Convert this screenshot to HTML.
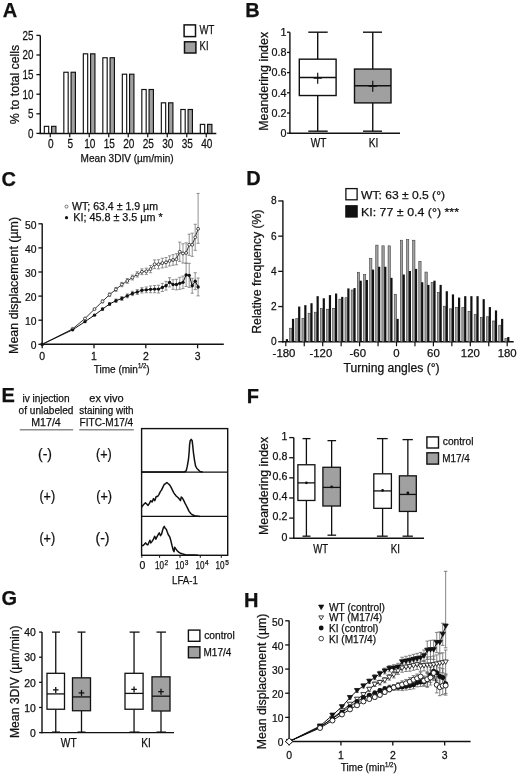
<!DOCTYPE html>
<html><head><meta charset="utf-8"><style>
html,body{margin:0;padding:0;background:#fff;}
svg{display:block;font-family:"Liberation Sans", sans-serif;will-change:transform;}
text{stroke:#111;stroke-width:0.25px;}
</style></head><body>
<svg width="520" height="776" viewBox="0 0 520 776">
<rect width="520" height="776" fill="#fff"/>
<text transform="translate(2.80 16.80)" font-size="20" text-anchor="start" font-weight="bold" fill="#111" >A</text>
<line x1="40.30" y1="35.40" x2="40.30" y2="134.10" stroke="#111" stroke-width="1.4" />
<line x1="39.60" y1="133.40" x2="216.30" y2="133.40" stroke="#111" stroke-width="1.5" />
<line x1="36.40" y1="133.40" x2="40.30" y2="133.40" stroke="#111" stroke-width="1.3" />
<text transform="translate(33.40 137.80) scale(0.8 1.0)" font-size="12.3" text-anchor="end" font-weight="normal" fill="#111" >0</text>
<line x1="36.40" y1="113.80" x2="40.30" y2="113.80" stroke="#111" stroke-width="1.3" />
<text transform="translate(33.40 118.20) scale(0.8 1.0)" font-size="12.3" text-anchor="end" font-weight="normal" fill="#111" >5</text>
<line x1="36.40" y1="94.20" x2="40.30" y2="94.20" stroke="#111" stroke-width="1.3" />
<text transform="translate(33.40 98.60) scale(0.8 1.0)" font-size="12.3" text-anchor="end" font-weight="normal" fill="#111" >10</text>
<line x1="36.40" y1="74.60" x2="40.30" y2="74.60" stroke="#111" stroke-width="1.3" />
<text transform="translate(33.40 79.00) scale(0.8 1.0)" font-size="12.3" text-anchor="end" font-weight="normal" fill="#111" >15</text>
<line x1="36.40" y1="55.00" x2="40.30" y2="55.00" stroke="#111" stroke-width="1.3" />
<text transform="translate(33.40 59.40) scale(0.8 1.0)" font-size="12.3" text-anchor="end" font-weight="normal" fill="#111" >20</text>
<line x1="36.40" y1="35.40" x2="40.30" y2="35.40" stroke="#111" stroke-width="1.3" />
<text transform="translate(33.40 39.80) scale(0.8 1.0)" font-size="12.3" text-anchor="end" font-weight="normal" fill="#111" >25</text>
<rect x="44.33" y="126.34" width="4.35" height="7.06" fill="#fff" stroke="#111" stroke-width="1.15"/>
<rect x="51.58" y="126.34" width="4.35" height="7.06" fill="#a0a0a0" stroke="#111" stroke-width="1.15"/>
<line x1="50.25" y1="133.40" x2="50.25" y2="137.20" stroke="#111" stroke-width="1.2" />
<text transform="translate(50.75 148.40) scale(0.82 1.0)" font-size="12.3" text-anchor="middle" font-weight="normal" fill="#111" >0</text>
<rect x="63.83" y="72.25" width="4.35" height="61.15" fill="#fff" stroke="#111" stroke-width="1.15"/>
<rect x="71.08" y="72.25" width="4.35" height="61.15" fill="#a0a0a0" stroke="#111" stroke-width="1.15"/>
<line x1="69.75" y1="133.40" x2="69.75" y2="137.20" stroke="#111" stroke-width="1.2" />
<text transform="translate(70.25 148.40) scale(0.82 1.0)" font-size="12.3" text-anchor="middle" font-weight="normal" fill="#111" >5</text>
<rect x="83.33" y="53.82" width="4.35" height="79.58" fill="#fff" stroke="#111" stroke-width="1.15"/>
<rect x="90.58" y="53.82" width="4.35" height="79.58" fill="#a0a0a0" stroke="#111" stroke-width="1.15"/>
<line x1="89.25" y1="133.40" x2="89.25" y2="137.20" stroke="#111" stroke-width="1.2" />
<text transform="translate(89.75 148.40) scale(0.82 1.0)" font-size="12.3" text-anchor="middle" font-weight="normal" fill="#111" >10</text>
<rect x="102.83" y="57.74" width="4.35" height="75.66" fill="#fff" stroke="#111" stroke-width="1.15"/>
<rect x="110.08" y="57.74" width="4.35" height="75.66" fill="#a0a0a0" stroke="#111" stroke-width="1.15"/>
<line x1="108.75" y1="133.40" x2="108.75" y2="137.20" stroke="#111" stroke-width="1.2" />
<text transform="translate(109.25 148.40) scale(0.82 1.0)" font-size="12.3" text-anchor="middle" font-weight="normal" fill="#111" >15</text>
<rect x="122.33" y="74.21" width="4.35" height="59.19" fill="#fff" stroke="#111" stroke-width="1.15"/>
<rect x="129.57" y="74.21" width="4.35" height="59.19" fill="#a0a0a0" stroke="#111" stroke-width="1.15"/>
<line x1="128.25" y1="133.40" x2="128.25" y2="137.20" stroke="#111" stroke-width="1.2" />
<text transform="translate(128.75 148.40) scale(0.82 1.0)" font-size="12.3" text-anchor="middle" font-weight="normal" fill="#111" >20</text>
<rect x="141.83" y="89.50" width="4.35" height="43.90" fill="#fff" stroke="#111" stroke-width="1.15"/>
<rect x="149.07" y="89.50" width="4.35" height="43.90" fill="#a0a0a0" stroke="#111" stroke-width="1.15"/>
<line x1="147.75" y1="133.40" x2="147.75" y2="137.20" stroke="#111" stroke-width="1.2" />
<text transform="translate(148.25 148.40) scale(0.82 1.0)" font-size="12.3" text-anchor="middle" font-weight="normal" fill="#111" >25</text>
<rect x="161.33" y="102.82" width="4.35" height="30.58" fill="#fff" stroke="#111" stroke-width="1.15"/>
<rect x="168.57" y="102.82" width="4.35" height="30.58" fill="#a0a0a0" stroke="#111" stroke-width="1.15"/>
<line x1="167.25" y1="133.40" x2="167.25" y2="137.20" stroke="#111" stroke-width="1.2" />
<text transform="translate(167.75 148.40) scale(0.82 1.0)" font-size="12.3" text-anchor="middle" font-weight="normal" fill="#111" >30</text>
<rect x="180.83" y="109.49" width="4.35" height="23.91" fill="#fff" stroke="#111" stroke-width="1.15"/>
<rect x="188.07" y="109.49" width="4.35" height="23.91" fill="#a0a0a0" stroke="#111" stroke-width="1.15"/>
<line x1="186.75" y1="133.40" x2="186.75" y2="137.20" stroke="#111" stroke-width="1.2" />
<text transform="translate(187.25 148.40) scale(0.82 1.0)" font-size="12.3" text-anchor="middle" font-weight="normal" fill="#111" >35</text>
<rect x="200.33" y="124.38" width="4.35" height="9.02" fill="#fff" stroke="#111" stroke-width="1.15"/>
<rect x="207.57" y="124.38" width="4.35" height="9.02" fill="#a0a0a0" stroke="#111" stroke-width="1.15"/>
<line x1="206.25" y1="133.40" x2="206.25" y2="137.20" stroke="#111" stroke-width="1.2" />
<text transform="translate(206.75 148.40) scale(0.82 1.0)" font-size="12.3" text-anchor="middle" font-weight="normal" fill="#111" >40</text>
<text transform="translate(80.60 161.60)" font-size="10.6" text-anchor="start" font-weight="normal" fill="#111" textLength="93" lengthAdjust="spacingAndGlyphs" >Mean 3DIV (µm/min)</text>
<text transform="translate(18.80 84.50) rotate(-90)" font-size="12" text-anchor="middle" font-weight="normal" fill="#111" textLength="79.5" lengthAdjust="spacingAndGlyphs" >% to total cells</text>
<rect x="184.10" y="24.90" width="11.40" height="11.70" fill="#fff" stroke="#111" stroke-width="1.5"/>
<rect x="184.50" y="41.80" width="11.40" height="11.20" fill="#a0a0a0" stroke="#111" stroke-width="1.5"/>
<text transform="translate(199.60 34.30)" font-size="12.5" text-anchor="start" font-weight="normal" fill="#111" textLength="14.8" lengthAdjust="spacingAndGlyphs" >WT</text>
<text transform="translate(199.60 50.30)" font-size="12" text-anchor="start" font-weight="normal" fill="#111" textLength="8.9" lengthAdjust="spacingAndGlyphs" >KI</text>
<text transform="translate(245.30 16.80)" font-size="20" text-anchor="start" font-weight="bold" fill="#111" >B</text>
<line x1="289.90" y1="32.20" x2="289.90" y2="133.80" stroke="#111" stroke-width="1.4" />
<line x1="289.20" y1="133.20" x2="400.00" y2="133.20" stroke="#111" stroke-width="1.4" />
<line x1="287.00" y1="133.20" x2="289.90" y2="133.20" stroke="#111" stroke-width="1.3" />
<text transform="translate(286.60 136.90) scale(0.93 1.0)" font-size="11.6" text-anchor="end" font-weight="normal" fill="#111" >0</text>
<line x1="287.00" y1="113.00" x2="289.90" y2="113.00" stroke="#111" stroke-width="1.3" />
<text transform="translate(286.60 116.70) scale(0.93 1.0)" font-size="11.6" text-anchor="end" font-weight="normal" fill="#111" >0.2</text>
<line x1="287.00" y1="92.80" x2="289.90" y2="92.80" stroke="#111" stroke-width="1.3" />
<text transform="translate(286.60 96.50) scale(0.93 1.0)" font-size="11.6" text-anchor="end" font-weight="normal" fill="#111" >0.4</text>
<line x1="287.00" y1="72.60" x2="289.90" y2="72.60" stroke="#111" stroke-width="1.3" />
<text transform="translate(286.60 76.30) scale(0.93 1.0)" font-size="11.6" text-anchor="end" font-weight="normal" fill="#111" >0.6</text>
<line x1="287.00" y1="52.40" x2="289.90" y2="52.40" stroke="#111" stroke-width="1.3" />
<text transform="translate(286.60 56.10) scale(0.93 1.0)" font-size="11.6" text-anchor="end" font-weight="normal" fill="#111" >0.8</text>
<line x1="287.00" y1="32.20" x2="289.90" y2="32.20" stroke="#111" stroke-width="1.3" />
<text transform="translate(286.60 35.90) scale(0.93 1.0)" font-size="11.6" text-anchor="end" font-weight="normal" fill="#111" >1</text>
<line x1="317.70" y1="32.20" x2="317.70" y2="59.17" stroke="#111" stroke-width="1.4" />
<line x1="317.70" y1="95.53" x2="317.70" y2="131.18" stroke="#111" stroke-width="1.4" />
<line x1="308.30" y1="32.20" x2="327.70" y2="32.20" stroke="#111" stroke-width="1.4" />
<line x1="308.30" y1="131.18" x2="327.70" y2="131.18" stroke="#111" stroke-width="1.4" />
<rect x="299.30" y="59.17" width="36.80" height="36.36" fill="#fff" stroke="#111" stroke-width="1.4"/>
<line x1="299.30" y1="77.45" x2="336.10" y2="77.45" stroke="#111" stroke-width="1.4" />
<line x1="313.60" y1="78.15" x2="321.80" y2="78.15" stroke="#111" stroke-width="1.2" />
<line x1="317.70" y1="72.65" x2="317.70" y2="83.65" stroke="#111" stroke-width="1.2" />
<line x1="372.75" y1="32.20" x2="372.75" y2="69.06" stroke="#111" stroke-width="1.4" />
<line x1="372.75" y1="102.90" x2="372.75" y2="131.18" stroke="#111" stroke-width="1.4" />
<line x1="363.00" y1="32.20" x2="382.00" y2="32.20" stroke="#111" stroke-width="1.4" />
<line x1="363.00" y1="131.18" x2="382.00" y2="131.18" stroke="#111" stroke-width="1.4" />
<rect x="354.50" y="69.06" width="36.50" height="33.84" fill="#a0a0a0" stroke="#111" stroke-width="1.4"/>
<line x1="354.50" y1="85.73" x2="391.00" y2="85.73" stroke="#111" stroke-width="1.4" />
<line x1="368.65" y1="86.23" x2="376.85" y2="86.23" stroke="#111" stroke-width="1.2" />
<line x1="372.75" y1="80.73" x2="372.75" y2="91.73" stroke="#111" stroke-width="1.2" />
<text transform="translate(318.60 147.20)" font-size="12" text-anchor="middle" font-weight="normal" fill="#111" textLength="15.6" lengthAdjust="spacingAndGlyphs" >WT</text>
<text transform="translate(373.60 147.20)" font-size="12" text-anchor="middle" font-weight="normal" fill="#111" textLength="9.6" lengthAdjust="spacingAndGlyphs" >KI</text>
<text transform="translate(267.80 81.30) rotate(-90)" font-size="12" text-anchor="middle" font-weight="normal" fill="#111" textLength="99" lengthAdjust="spacingAndGlyphs" >Meandering index</text>
<text transform="translate(1.50 186.20)" font-size="20" text-anchor="start" font-weight="bold" fill="#111" >C</text>
<line x1="42.20" y1="223.40" x2="42.20" y2="344.90" stroke="#111" stroke-width="1.4" />
<line x1="41.50" y1="344.30" x2="223.80" y2="344.30" stroke="#111" stroke-width="1.5" />
<line x1="38.40" y1="344.30" x2="42.20" y2="344.30" stroke="#111" stroke-width="1.3" />
<text transform="translate(36.40 349.10) scale(0.9 1.0)" font-size="11.5" text-anchor="end" font-weight="normal" fill="#111" >0</text>
<line x1="38.40" y1="320.20" x2="42.20" y2="320.20" stroke="#111" stroke-width="1.3" />
<text transform="translate(36.40 325.00) scale(0.9 1.0)" font-size="11.5" text-anchor="end" font-weight="normal" fill="#111" >10</text>
<line x1="38.40" y1="296.10" x2="42.20" y2="296.10" stroke="#111" stroke-width="1.3" />
<text transform="translate(36.40 300.90) scale(0.9 1.0)" font-size="11.5" text-anchor="end" font-weight="normal" fill="#111" >20</text>
<line x1="38.40" y1="272.00" x2="42.20" y2="272.00" stroke="#111" stroke-width="1.3" />
<text transform="translate(36.40 276.80) scale(0.9 1.0)" font-size="11.5" text-anchor="end" font-weight="normal" fill="#111" >30</text>
<line x1="38.40" y1="247.90" x2="42.20" y2="247.90" stroke="#111" stroke-width="1.3" />
<text transform="translate(36.40 252.70) scale(0.9 1.0)" font-size="11.5" text-anchor="end" font-weight="normal" fill="#111" >40</text>
<line x1="38.40" y1="223.80" x2="42.20" y2="223.80" stroke="#111" stroke-width="1.3" />
<text transform="translate(36.40 228.60) scale(0.9 1.0)" font-size="11.5" text-anchor="end" font-weight="normal" fill="#111" >50</text>
<line x1="42.20" y1="344.30" x2="42.20" y2="348.30" stroke="#111" stroke-width="1.3" />
<text transform="translate(42.20 360.30) scale(0.95 1.0)" font-size="11" text-anchor="middle" font-weight="normal" fill="#111" >0</text>
<line x1="94.00" y1="344.30" x2="94.00" y2="348.30" stroke="#111" stroke-width="1.3" />
<text transform="translate(94.00 360.30) scale(0.95 1.0)" font-size="11" text-anchor="middle" font-weight="normal" fill="#111" >1</text>
<line x1="145.80" y1="344.30" x2="145.80" y2="348.30" stroke="#111" stroke-width="1.3" />
<text transform="translate(145.80 360.30) scale(0.95 1.0)" font-size="11" text-anchor="middle" font-weight="normal" fill="#111" >2</text>
<line x1="197.60" y1="344.30" x2="197.60" y2="348.30" stroke="#111" stroke-width="1.3" />
<text transform="translate(197.60 360.30) scale(0.95 1.0)" font-size="11" text-anchor="middle" font-weight="normal" fill="#111" >3</text>
<text x="93.7" y="372.5" font-size="10.8" fill="#111" textLength="56" lengthAdjust="spacingAndGlyphs">Time (min<tspan font-size="6.5" dy="-4.2">1/2</tspan><tspan dy="4.2">)</tspan></text>
<text transform="translate(18.40 285.40) rotate(-90)" font-size="12" text-anchor="middle" font-weight="normal" fill="#111" textLength="137" lengthAdjust="spacingAndGlyphs" >Mean displacement (µm)</text>
<line x1="102.51" y1="302.85" x2="102.51" y2="299.96" stroke="#777" stroke-width="0.8" />
<line x1="100.91" y1="299.96" x2="104.11" y2="299.96" stroke="#777" stroke-width="0.8" />
<line x1="100.91" y1="302.85" x2="104.11" y2="302.85" stroke="#777" stroke-width="0.8" />
<line x1="109.57" y1="296.34" x2="109.57" y2="292.97" stroke="#777" stroke-width="0.8" />
<line x1="107.97" y1="292.97" x2="111.17" y2="292.97" stroke="#777" stroke-width="0.8" />
<line x1="107.97" y1="296.34" x2="111.17" y2="296.34" stroke="#777" stroke-width="0.8" />
<line x1="115.96" y1="291.28" x2="115.96" y2="287.42" stroke="#777" stroke-width="0.8" />
<line x1="114.36" y1="287.42" x2="117.56" y2="287.42" stroke="#777" stroke-width="0.8" />
<line x1="114.36" y1="291.28" x2="117.56" y2="291.28" stroke="#777" stroke-width="0.8" />
<line x1="121.83" y1="286.70" x2="121.83" y2="282.36" stroke="#777" stroke-width="0.8" />
<line x1="120.23" y1="282.36" x2="123.43" y2="282.36" stroke="#777" stroke-width="0.8" />
<line x1="120.23" y1="286.70" x2="123.43" y2="286.70" stroke="#777" stroke-width="0.8" />
<line x1="127.29" y1="283.33" x2="127.29" y2="278.51" stroke="#777" stroke-width="0.8" />
<line x1="125.69" y1="278.51" x2="128.89" y2="278.51" stroke="#777" stroke-width="0.8" />
<line x1="125.69" y1="283.33" x2="128.89" y2="283.33" stroke="#777" stroke-width="0.8" />
<line x1="132.42" y1="279.95" x2="132.42" y2="275.13" stroke="#777" stroke-width="0.8" />
<line x1="130.82" y1="275.13" x2="134.02" y2="275.13" stroke="#777" stroke-width="0.8" />
<line x1="130.82" y1="279.95" x2="134.02" y2="279.95" stroke="#777" stroke-width="0.8" />
<line x1="137.27" y1="277.06" x2="137.27" y2="271.76" stroke="#777" stroke-width="0.8" />
<line x1="135.67" y1="271.76" x2="138.87" y2="271.76" stroke="#777" stroke-width="0.8" />
<line x1="135.67" y1="277.06" x2="138.87" y2="277.06" stroke="#777" stroke-width="0.8" />
<line x1="141.89" y1="274.65" x2="141.89" y2="268.87" stroke="#777" stroke-width="0.8" />
<line x1="140.29" y1="268.87" x2="143.49" y2="268.87" stroke="#777" stroke-width="0.8" />
<line x1="140.29" y1="274.65" x2="143.49" y2="274.65" stroke="#777" stroke-width="0.8" />
<line x1="146.30" y1="274.41" x2="146.30" y2="268.14" stroke="#777" stroke-width="0.8" />
<line x1="144.70" y1="268.14" x2="147.90" y2="268.14" stroke="#777" stroke-width="0.8" />
<line x1="144.70" y1="274.41" x2="147.90" y2="274.41" stroke="#777" stroke-width="0.8" />
<line x1="150.53" y1="272.72" x2="150.53" y2="265.49" stroke="#777" stroke-width="0.8" />
<line x1="148.93" y1="265.49" x2="152.13" y2="265.49" stroke="#777" stroke-width="0.8" />
<line x1="148.93" y1="272.72" x2="152.13" y2="272.72" stroke="#777" stroke-width="0.8" />
<line x1="154.60" y1="268.63" x2="154.60" y2="259.95" stroke="#777" stroke-width="0.8" />
<line x1="153.00" y1="259.95" x2="156.20" y2="259.95" stroke="#777" stroke-width="0.8" />
<line x1="153.00" y1="268.63" x2="156.20" y2="268.63" stroke="#777" stroke-width="0.8" />
<line x1="158.53" y1="268.87" x2="158.53" y2="259.71" stroke="#777" stroke-width="0.8" />
<line x1="156.93" y1="259.71" x2="160.13" y2="259.71" stroke="#777" stroke-width="0.8" />
<line x1="156.93" y1="268.87" x2="160.13" y2="268.87" stroke="#777" stroke-width="0.8" />
<line x1="162.33" y1="267.90" x2="162.33" y2="258.26" stroke="#777" stroke-width="0.8" />
<line x1="160.73" y1="258.26" x2="163.93" y2="258.26" stroke="#777" stroke-width="0.8" />
<line x1="160.73" y1="267.90" x2="163.93" y2="267.90" stroke="#777" stroke-width="0.8" />
<line x1="166.01" y1="267.18" x2="166.01" y2="257.54" stroke="#777" stroke-width="0.8" />
<line x1="164.41" y1="257.54" x2="167.61" y2="257.54" stroke="#777" stroke-width="0.8" />
<line x1="164.41" y1="267.18" x2="167.61" y2="267.18" stroke="#777" stroke-width="0.8" />
<line x1="169.58" y1="265.98" x2="169.58" y2="255.85" stroke="#777" stroke-width="0.8" />
<line x1="167.98" y1="255.85" x2="171.18" y2="255.85" stroke="#777" stroke-width="0.8" />
<line x1="167.98" y1="265.98" x2="171.18" y2="265.98" stroke="#777" stroke-width="0.8" />
<line x1="173.06" y1="265.25" x2="173.06" y2="254.65" stroke="#777" stroke-width="0.8" />
<line x1="171.46" y1="254.65" x2="174.66" y2="254.65" stroke="#777" stroke-width="0.8" />
<line x1="171.46" y1="265.25" x2="174.66" y2="265.25" stroke="#777" stroke-width="0.8" />
<line x1="176.45" y1="264.77" x2="176.45" y2="253.68" stroke="#777" stroke-width="0.8" />
<line x1="174.85" y1="253.68" x2="178.05" y2="253.68" stroke="#777" stroke-width="0.8" />
<line x1="174.85" y1="264.77" x2="178.05" y2="264.77" stroke="#777" stroke-width="0.8" />
<line x1="179.75" y1="261.40" x2="179.75" y2="242.12" stroke="#777" stroke-width="0.8" />
<line x1="178.15" y1="242.12" x2="181.35" y2="242.12" stroke="#777" stroke-width="0.8" />
<line x1="178.15" y1="261.40" x2="181.35" y2="261.40" stroke="#777" stroke-width="0.8" />
<line x1="182.98" y1="263.08" x2="182.98" y2="243.80" stroke="#777" stroke-width="0.8" />
<line x1="181.38" y1="243.80" x2="184.58" y2="243.80" stroke="#777" stroke-width="0.8" />
<line x1="181.38" y1="263.08" x2="184.58" y2="263.08" stroke="#777" stroke-width="0.8" />
<line x1="186.13" y1="263.08" x2="186.13" y2="242.84" stroke="#777" stroke-width="0.8" />
<line x1="184.53" y1="242.84" x2="187.73" y2="242.84" stroke="#777" stroke-width="0.8" />
<line x1="184.53" y1="263.08" x2="187.73" y2="263.08" stroke="#777" stroke-width="0.8" />
<line x1="189.21" y1="255.37" x2="189.21" y2="234.16" stroke="#777" stroke-width="0.8" />
<line x1="187.61" y1="234.16" x2="190.81" y2="234.16" stroke="#777" stroke-width="0.8" />
<line x1="187.61" y1="255.37" x2="190.81" y2="255.37" stroke="#777" stroke-width="0.8" />
<line x1="192.23" y1="256.34" x2="192.23" y2="233.20" stroke="#777" stroke-width="0.8" />
<line x1="190.63" y1="233.20" x2="193.83" y2="233.20" stroke="#777" stroke-width="0.8" />
<line x1="190.63" y1="256.34" x2="193.83" y2="256.34" stroke="#777" stroke-width="0.8" />
<line x1="195.20" y1="250.31" x2="195.20" y2="224.28" stroke="#777" stroke-width="0.8" />
<line x1="193.60" y1="224.28" x2="196.80" y2="224.28" stroke="#777" stroke-width="0.8" />
<line x1="193.60" y1="250.31" x2="196.80" y2="250.31" stroke="#777" stroke-width="0.8" />
<line x1="198.10" y1="243.32" x2="198.10" y2="193.43" stroke="#777" stroke-width="0.8" />
<line x1="196.50" y1="193.43" x2="199.70" y2="193.43" stroke="#777" stroke-width="0.8" />
<line x1="196.50" y1="243.32" x2="199.70" y2="243.32" stroke="#777" stroke-width="0.8" />
<line x1="102.51" y1="310.56" x2="102.51" y2="307.67" stroke="#777" stroke-width="0.8" />
<line x1="100.91" y1="307.67" x2="104.11" y2="307.67" stroke="#777" stroke-width="0.8" />
<line x1="100.91" y1="310.56" x2="104.11" y2="310.56" stroke="#777" stroke-width="0.8" />
<line x1="109.57" y1="305.50" x2="109.57" y2="302.61" stroke="#777" stroke-width="0.8" />
<line x1="107.97" y1="302.61" x2="111.17" y2="302.61" stroke="#777" stroke-width="0.8" />
<line x1="107.97" y1="305.50" x2="111.17" y2="305.50" stroke="#777" stroke-width="0.8" />
<line x1="115.96" y1="302.37" x2="115.96" y2="298.99" stroke="#777" stroke-width="0.8" />
<line x1="114.36" y1="298.99" x2="117.56" y2="298.99" stroke="#777" stroke-width="0.8" />
<line x1="114.36" y1="302.37" x2="117.56" y2="302.37" stroke="#777" stroke-width="0.8" />
<line x1="121.83" y1="300.44" x2="121.83" y2="296.58" stroke="#777" stroke-width="0.8" />
<line x1="120.23" y1="296.58" x2="123.43" y2="296.58" stroke="#777" stroke-width="0.8" />
<line x1="120.23" y1="300.44" x2="123.43" y2="300.44" stroke="#777" stroke-width="0.8" />
<line x1="127.29" y1="297.79" x2="127.29" y2="293.93" stroke="#777" stroke-width="0.8" />
<line x1="125.69" y1="293.93" x2="128.89" y2="293.93" stroke="#777" stroke-width="0.8" />
<line x1="125.69" y1="297.79" x2="128.89" y2="297.79" stroke="#777" stroke-width="0.8" />
<line x1="132.42" y1="295.62" x2="132.42" y2="291.28" stroke="#777" stroke-width="0.8" />
<line x1="130.82" y1="291.28" x2="134.02" y2="291.28" stroke="#777" stroke-width="0.8" />
<line x1="130.82" y1="295.62" x2="134.02" y2="295.62" stroke="#777" stroke-width="0.8" />
<line x1="137.27" y1="294.41" x2="137.27" y2="289.59" stroke="#777" stroke-width="0.8" />
<line x1="135.67" y1="289.59" x2="138.87" y2="289.59" stroke="#777" stroke-width="0.8" />
<line x1="135.67" y1="294.41" x2="138.87" y2="294.41" stroke="#777" stroke-width="0.8" />
<line x1="141.89" y1="292.97" x2="141.89" y2="287.67" stroke="#777" stroke-width="0.8" />
<line x1="140.29" y1="287.67" x2="143.49" y2="287.67" stroke="#777" stroke-width="0.8" />
<line x1="140.29" y1="292.97" x2="143.49" y2="292.97" stroke="#777" stroke-width="0.8" />
<line x1="146.30" y1="292.73" x2="146.30" y2="286.94" stroke="#777" stroke-width="0.8" />
<line x1="144.70" y1="286.94" x2="147.90" y2="286.94" stroke="#777" stroke-width="0.8" />
<line x1="144.70" y1="292.73" x2="147.90" y2="292.73" stroke="#777" stroke-width="0.8" />
<line x1="150.53" y1="292.73" x2="150.53" y2="285.98" stroke="#777" stroke-width="0.8" />
<line x1="148.93" y1="285.98" x2="152.13" y2="285.98" stroke="#777" stroke-width="0.8" />
<line x1="148.93" y1="292.73" x2="152.13" y2="292.73" stroke="#777" stroke-width="0.8" />
<line x1="154.60" y1="292.73" x2="154.60" y2="285.50" stroke="#777" stroke-width="0.8" />
<line x1="153.00" y1="285.50" x2="156.20" y2="285.50" stroke="#777" stroke-width="0.8" />
<line x1="153.00" y1="292.73" x2="156.20" y2="292.73" stroke="#777" stroke-width="0.8" />
<line x1="158.53" y1="292.97" x2="158.53" y2="285.25" stroke="#777" stroke-width="0.8" />
<line x1="156.93" y1="285.25" x2="160.13" y2="285.25" stroke="#777" stroke-width="0.8" />
<line x1="156.93" y1="292.97" x2="160.13" y2="292.97" stroke="#777" stroke-width="0.8" />
<line x1="162.33" y1="291.52" x2="162.33" y2="283.33" stroke="#777" stroke-width="0.8" />
<line x1="160.73" y1="283.33" x2="163.93" y2="283.33" stroke="#777" stroke-width="0.8" />
<line x1="160.73" y1="291.52" x2="163.93" y2="291.52" stroke="#777" stroke-width="0.8" />
<line x1="166.01" y1="290.07" x2="166.01" y2="281.40" stroke="#777" stroke-width="0.8" />
<line x1="164.41" y1="281.40" x2="167.61" y2="281.40" stroke="#777" stroke-width="0.8" />
<line x1="164.41" y1="290.07" x2="167.61" y2="290.07" stroke="#777" stroke-width="0.8" />
<line x1="169.58" y1="286.94" x2="169.58" y2="277.78" stroke="#777" stroke-width="0.8" />
<line x1="167.98" y1="277.78" x2="171.18" y2="277.78" stroke="#777" stroke-width="0.8" />
<line x1="167.98" y1="286.94" x2="171.18" y2="286.94" stroke="#777" stroke-width="0.8" />
<line x1="173.06" y1="289.35" x2="173.06" y2="279.71" stroke="#777" stroke-width="0.8" />
<line x1="171.46" y1="279.71" x2="174.66" y2="279.71" stroke="#777" stroke-width="0.8" />
<line x1="171.46" y1="289.35" x2="174.66" y2="289.35" stroke="#777" stroke-width="0.8" />
<line x1="176.45" y1="289.83" x2="176.45" y2="279.23" stroke="#777" stroke-width="0.8" />
<line x1="174.85" y1="279.23" x2="178.05" y2="279.23" stroke="#777" stroke-width="0.8" />
<line x1="174.85" y1="289.83" x2="178.05" y2="289.83" stroke="#777" stroke-width="0.8" />
<line x1="179.75" y1="289.35" x2="179.75" y2="277.30" stroke="#777" stroke-width="0.8" />
<line x1="178.15" y1="277.30" x2="181.35" y2="277.30" stroke="#777" stroke-width="0.8" />
<line x1="178.15" y1="289.35" x2="181.35" y2="289.35" stroke="#777" stroke-width="0.8" />
<line x1="182.98" y1="288.63" x2="182.98" y2="276.10" stroke="#777" stroke-width="0.8" />
<line x1="181.38" y1="276.10" x2="184.58" y2="276.10" stroke="#777" stroke-width="0.8" />
<line x1="181.38" y1="288.63" x2="184.58" y2="288.63" stroke="#777" stroke-width="0.8" />
<line x1="186.13" y1="286.46" x2="186.13" y2="263.32" stroke="#777" stroke-width="0.8" />
<line x1="184.53" y1="263.32" x2="187.73" y2="263.32" stroke="#777" stroke-width="0.8" />
<line x1="184.53" y1="286.46" x2="187.73" y2="286.46" stroke="#777" stroke-width="0.8" />
<line x1="189.21" y1="287.42" x2="189.21" y2="263.32" stroke="#777" stroke-width="0.8" />
<line x1="187.61" y1="263.32" x2="190.81" y2="263.32" stroke="#777" stroke-width="0.8" />
<line x1="187.61" y1="287.42" x2="190.81" y2="287.42" stroke="#777" stroke-width="0.8" />
<line x1="192.23" y1="293.21" x2="192.23" y2="278.27" stroke="#777" stroke-width="0.8" />
<line x1="190.63" y1="278.27" x2="193.83" y2="278.27" stroke="#777" stroke-width="0.8" />
<line x1="190.63" y1="293.21" x2="193.83" y2="293.21" stroke="#777" stroke-width="0.8" />
<line x1="195.20" y1="289.59" x2="195.20" y2="272.72" stroke="#777" stroke-width="0.8" />
<line x1="193.60" y1="272.72" x2="196.80" y2="272.72" stroke="#777" stroke-width="0.8" />
<line x1="193.60" y1="289.59" x2="196.80" y2="289.59" stroke="#777" stroke-width="0.8" />
<line x1="198.10" y1="295.86" x2="198.10" y2="278.02" stroke="#777" stroke-width="0.8" />
<line x1="196.50" y1="278.02" x2="199.70" y2="278.02" stroke="#777" stroke-width="0.8" />
<line x1="196.50" y1="295.86" x2="199.70" y2="295.86" stroke="#777" stroke-width="0.8" />
<polyline points="42.20,344.30 72.61,328.88 84.99,318.51 94.50,309.11 102.51,301.40 109.57,294.65 115.96,289.35 121.83,284.53 127.29,280.92 132.42,277.54 137.27,274.41 141.89,271.76 146.30,271.28 150.53,269.11 154.60,264.29 158.53,264.29 162.33,263.08 166.01,262.36 169.58,260.91 173.06,259.95 176.45,259.23 179.75,251.76 182.98,253.44 186.13,252.96 189.21,244.77 192.23,244.77 195.20,237.30 198.10,228.86" fill="none" stroke="#333" stroke-width="1.0" stroke-linejoin="round" />
<polyline points="42.20,344.30 72.61,329.84 84.99,321.65 94.50,315.14 102.51,309.11 109.57,304.05 115.96,300.68 121.83,298.51 127.29,295.86 132.42,293.45 137.27,292.00 141.89,290.32 146.30,289.83 150.53,289.35 154.60,289.11 158.53,289.11 162.33,287.42 166.01,285.74 169.58,282.36 173.06,284.53 176.45,284.53 179.75,283.33 182.98,282.36 186.13,274.89 189.21,275.37 192.23,285.74 195.20,281.16 198.10,286.94" fill="none" stroke="#111" stroke-width="1.0" stroke-linejoin="round" />
<circle cx="42.20" cy="344.30" r="1.45" fill="#fff" stroke="#333" stroke-width="0.9"/>
<circle cx="72.61" cy="328.88" r="1.45" fill="#fff" stroke="#333" stroke-width="0.9"/>
<circle cx="84.99" cy="318.51" r="1.45" fill="#fff" stroke="#333" stroke-width="0.9"/>
<circle cx="94.50" cy="309.11" r="1.45" fill="#fff" stroke="#333" stroke-width="0.9"/>
<circle cx="102.51" cy="301.40" r="1.45" fill="#fff" stroke="#333" stroke-width="0.9"/>
<circle cx="109.57" cy="294.65" r="1.45" fill="#fff" stroke="#333" stroke-width="0.9"/>
<circle cx="115.96" cy="289.35" r="1.45" fill="#fff" stroke="#333" stroke-width="0.9"/>
<circle cx="121.83" cy="284.53" r="1.45" fill="#fff" stroke="#333" stroke-width="0.9"/>
<circle cx="127.29" cy="280.92" r="1.45" fill="#fff" stroke="#333" stroke-width="0.9"/>
<circle cx="132.42" cy="277.54" r="1.45" fill="#fff" stroke="#333" stroke-width="0.9"/>
<circle cx="137.27" cy="274.41" r="1.45" fill="#fff" stroke="#333" stroke-width="0.9"/>
<circle cx="141.89" cy="271.76" r="1.45" fill="#fff" stroke="#333" stroke-width="0.9"/>
<circle cx="146.30" cy="271.28" r="1.45" fill="#fff" stroke="#333" stroke-width="0.9"/>
<circle cx="150.53" cy="269.11" r="1.45" fill="#fff" stroke="#333" stroke-width="0.9"/>
<circle cx="154.60" cy="264.29" r="1.45" fill="#fff" stroke="#333" stroke-width="0.9"/>
<circle cx="158.53" cy="264.29" r="1.45" fill="#fff" stroke="#333" stroke-width="0.9"/>
<circle cx="162.33" cy="263.08" r="1.45" fill="#fff" stroke="#333" stroke-width="0.9"/>
<circle cx="166.01" cy="262.36" r="1.45" fill="#fff" stroke="#333" stroke-width="0.9"/>
<circle cx="169.58" cy="260.91" r="1.45" fill="#fff" stroke="#333" stroke-width="0.9"/>
<circle cx="173.06" cy="259.95" r="1.45" fill="#fff" stroke="#333" stroke-width="0.9"/>
<circle cx="176.45" cy="259.23" r="1.45" fill="#fff" stroke="#333" stroke-width="0.9"/>
<circle cx="179.75" cy="251.76" r="1.45" fill="#fff" stroke="#333" stroke-width="0.9"/>
<circle cx="182.98" cy="253.44" r="1.45" fill="#fff" stroke="#333" stroke-width="0.9"/>
<circle cx="186.13" cy="252.96" r="1.45" fill="#fff" stroke="#333" stroke-width="0.9"/>
<circle cx="189.21" cy="244.77" r="1.45" fill="#fff" stroke="#333" stroke-width="0.9"/>
<circle cx="192.23" cy="244.77" r="1.45" fill="#fff" stroke="#333" stroke-width="0.9"/>
<circle cx="195.20" cy="237.30" r="1.45" fill="#fff" stroke="#333" stroke-width="0.9"/>
<circle cx="198.10" cy="228.86" r="1.45" fill="#fff" stroke="#333" stroke-width="0.9"/>
<circle cx="42.20" cy="344.30" r="1.7" fill="#111"/>
<circle cx="72.61" cy="329.84" r="1.7" fill="#111"/>
<circle cx="84.99" cy="321.65" r="1.7" fill="#111"/>
<circle cx="94.50" cy="315.14" r="1.7" fill="#111"/>
<circle cx="102.51" cy="309.11" r="1.7" fill="#111"/>
<circle cx="109.57" cy="304.05" r="1.7" fill="#111"/>
<circle cx="115.96" cy="300.68" r="1.7" fill="#111"/>
<circle cx="121.83" cy="298.51" r="1.7" fill="#111"/>
<circle cx="127.29" cy="295.86" r="1.7" fill="#111"/>
<circle cx="132.42" cy="293.45" r="1.7" fill="#111"/>
<circle cx="137.27" cy="292.00" r="1.7" fill="#111"/>
<circle cx="141.89" cy="290.32" r="1.7" fill="#111"/>
<circle cx="146.30" cy="289.83" r="1.7" fill="#111"/>
<circle cx="150.53" cy="289.35" r="1.7" fill="#111"/>
<circle cx="154.60" cy="289.11" r="1.7" fill="#111"/>
<circle cx="158.53" cy="289.11" r="1.7" fill="#111"/>
<circle cx="162.33" cy="287.42" r="1.7" fill="#111"/>
<circle cx="166.01" cy="285.74" r="1.7" fill="#111"/>
<circle cx="169.58" cy="282.36" r="1.7" fill="#111"/>
<circle cx="173.06" cy="284.53" r="1.7" fill="#111"/>
<circle cx="176.45" cy="284.53" r="1.7" fill="#111"/>
<circle cx="179.75" cy="283.33" r="1.7" fill="#111"/>
<circle cx="182.98" cy="282.36" r="1.7" fill="#111"/>
<circle cx="186.13" cy="274.89" r="1.7" fill="#111"/>
<circle cx="189.21" cy="275.37" r="1.7" fill="#111"/>
<circle cx="192.23" cy="285.74" r="1.7" fill="#111"/>
<circle cx="195.20" cy="281.16" r="1.7" fill="#111"/>
<circle cx="198.10" cy="286.94" r="1.7" fill="#111"/>
<circle cx="66.5" cy="206.6" r="1.5" fill="#fff" stroke="#555" stroke-width="0.8"/>
<circle cx="66.5" cy="217.7" r="1.6" fill="#111"/>
<text transform="translate(72.00 209.60)" font-size="10.6" text-anchor="start" font-weight="normal" fill="#111" textLength="86" lengthAdjust="spacingAndGlyphs" >WT; 63.4 ± 1.9 µm</text>
<text transform="translate(73.20 221.20)" font-size="10.6" text-anchor="start" font-weight="normal" fill="#111" textLength="89.5" lengthAdjust="spacingAndGlyphs" >KI; 45.8 ± 3.5 µm *</text>
<text transform="translate(246.30 185.20)" font-size="20" text-anchor="start" font-weight="bold" fill="#111" >D</text>
<line x1="282.90" y1="200.50" x2="282.90" y2="342.40" stroke="#111" stroke-width="1.4" />
<line x1="282.20" y1="341.75" x2="513.70" y2="341.75" stroke="#111" stroke-width="1.4" />
<line x1="278.20" y1="341.75" x2="282.90" y2="341.75" stroke="#111" stroke-width="1.3" />
<text transform="translate(276.60 345.15) scale(0.86 1.0)" font-size="11.8" text-anchor="end" font-weight="normal" fill="#111" >0</text>
<line x1="278.20" y1="306.55" x2="282.90" y2="306.55" stroke="#111" stroke-width="1.3" />
<text transform="translate(276.60 309.95) scale(0.86 1.0)" font-size="11.8" text-anchor="end" font-weight="normal" fill="#111" >2</text>
<line x1="278.20" y1="271.35" x2="282.90" y2="271.35" stroke="#111" stroke-width="1.3" />
<text transform="translate(276.60 274.75) scale(0.86 1.0)" font-size="11.8" text-anchor="end" font-weight="normal" fill="#111" >4</text>
<line x1="278.20" y1="236.15" x2="282.90" y2="236.15" stroke="#111" stroke-width="1.3" />
<text transform="translate(276.60 239.55) scale(0.86 1.0)" font-size="11.8" text-anchor="end" font-weight="normal" fill="#111" >6</text>
<line x1="278.20" y1="200.95" x2="282.90" y2="200.95" stroke="#111" stroke-width="1.3" />
<text transform="translate(276.60 204.35) scale(0.86 1.0)" font-size="11.8" text-anchor="end" font-weight="normal" fill="#111" >8</text>
<line x1="285.80" y1="341.75" x2="285.80" y2="346.20" stroke="#111" stroke-width="1.2" />
<line x1="304.25" y1="341.75" x2="304.25" y2="346.20" stroke="#111" stroke-width="1.2" />
<line x1="322.70" y1="341.75" x2="322.70" y2="346.20" stroke="#111" stroke-width="1.2" />
<line x1="341.15" y1="341.75" x2="341.15" y2="346.20" stroke="#111" stroke-width="1.2" />
<line x1="359.60" y1="341.75" x2="359.60" y2="346.20" stroke="#111" stroke-width="1.2" />
<line x1="378.05" y1="341.75" x2="378.05" y2="346.20" stroke="#111" stroke-width="1.2" />
<line x1="396.50" y1="341.75" x2="396.50" y2="346.20" stroke="#111" stroke-width="1.2" />
<line x1="414.95" y1="341.75" x2="414.95" y2="346.20" stroke="#111" stroke-width="1.2" />
<line x1="433.40" y1="341.75" x2="433.40" y2="346.20" stroke="#111" stroke-width="1.2" />
<line x1="451.85" y1="341.75" x2="451.85" y2="346.20" stroke="#111" stroke-width="1.2" />
<line x1="470.30" y1="341.75" x2="470.30" y2="346.20" stroke="#111" stroke-width="1.2" />
<line x1="488.75" y1="341.75" x2="488.75" y2="346.20" stroke="#111" stroke-width="1.2" />
<line x1="507.20" y1="341.75" x2="507.20" y2="346.20" stroke="#111" stroke-width="1.2" />
<text transform="translate(284.00 357.20)" font-size="11.4" text-anchor="middle" font-weight="normal" fill="#111" >-180</text>
<text transform="translate(320.90 357.20)" font-size="11.4" text-anchor="middle" font-weight="normal" fill="#111" >-120</text>
<text transform="translate(357.80 357.20)" font-size="11.4" text-anchor="middle" font-weight="normal" fill="#111" >-60</text>
<text transform="translate(396.50 357.20)" font-size="11.4" text-anchor="middle" font-weight="normal" fill="#111" >0</text>
<text transform="translate(433.40 357.20)" font-size="11.4" text-anchor="middle" font-weight="normal" fill="#111" >60</text>
<text transform="translate(470.30 357.20)" font-size="11.4" text-anchor="middle" font-weight="normal" fill="#111" >120</text>
<text transform="translate(507.20 357.20)" font-size="11.4" text-anchor="middle" font-weight="normal" fill="#111" >180</text>
<text transform="translate(343.60 372.40)" font-size="12" text-anchor="start" font-weight="normal" fill="#111" textLength="96" lengthAdjust="spacingAndGlyphs" >Turning angles (°)</text>
<text transform="translate(260.80 271.60) rotate(-90)" font-size="12" text-anchor="middle" font-weight="normal" fill="#111" textLength="124.5" lengthAdjust="spacingAndGlyphs" >Relative frequency (%)</text>
<rect x="285.80" y="339.11" width="2.2" height="2.64" fill="#111"/>
<rect x="289.65" y="328.20" width="2.3" height="13.55" fill="#a2a2a2" stroke="#333" stroke-width="0.55"/>
<rect x="291.95" y="318.87" width="2.2" height="22.88" fill="#111"/>
<rect x="295.80" y="318.69" width="2.3" height="23.06" fill="#a2a2a2" stroke="#333" stroke-width="0.55"/>
<rect x="298.10" y="306.55" width="2.2" height="35.20" fill="#111"/>
<rect x="301.95" y="318.34" width="2.3" height="23.41" fill="#a2a2a2" stroke="#333" stroke-width="0.55"/>
<rect x="304.25" y="305.14" width="2.2" height="36.61" fill="#111"/>
<rect x="308.10" y="313.24" width="2.3" height="28.51" fill="#a2a2a2" stroke="#333" stroke-width="0.55"/>
<rect x="310.40" y="303.21" width="2.2" height="38.54" fill="#111"/>
<rect x="314.25" y="312.18" width="2.3" height="29.57" fill="#a2a2a2" stroke="#333" stroke-width="0.55"/>
<rect x="316.55" y="296.17" width="2.2" height="45.58" fill="#111"/>
<rect x="320.40" y="308.49" width="2.3" height="33.26" fill="#a2a2a2" stroke="#333" stroke-width="0.55"/>
<rect x="322.70" y="298.28" width="2.2" height="43.47" fill="#111"/>
<rect x="326.55" y="309.19" width="2.3" height="32.56" fill="#a2a2a2" stroke="#333" stroke-width="0.55"/>
<rect x="328.85" y="295.11" width="2.2" height="46.64" fill="#111"/>
<rect x="332.70" y="308.31" width="2.3" height="33.44" fill="#a2a2a2" stroke="#333" stroke-width="0.55"/>
<rect x="335.00" y="293.53" width="2.2" height="48.22" fill="#111"/>
<rect x="338.85" y="299.16" width="2.3" height="42.59" fill="#a2a2a2" stroke="#333" stroke-width="0.55"/>
<rect x="341.15" y="296.87" width="2.2" height="44.88" fill="#111"/>
<rect x="345.00" y="297.75" width="2.3" height="44.00" fill="#a2a2a2" stroke="#333" stroke-width="0.55"/>
<rect x="347.30" y="288.42" width="2.2" height="53.33" fill="#111"/>
<rect x="351.15" y="290.01" width="2.3" height="51.74" fill="#a2a2a2" stroke="#333" stroke-width="0.55"/>
<rect x="353.45" y="288.07" width="2.2" height="53.68" fill="#111"/>
<rect x="357.30" y="272.23" width="2.3" height="69.52" fill="#a2a2a2" stroke="#333" stroke-width="0.55"/>
<rect x="359.60" y="280.68" width="2.2" height="61.07" fill="#111"/>
<rect x="363.45" y="274.69" width="2.3" height="67.06" fill="#a2a2a2" stroke="#333" stroke-width="0.55"/>
<rect x="365.75" y="279.97" width="2.2" height="61.78" fill="#111"/>
<rect x="369.60" y="258.33" width="2.3" height="83.42" fill="#a2a2a2" stroke="#333" stroke-width="0.55"/>
<rect x="371.90" y="269.59" width="2.2" height="72.16" fill="#111"/>
<rect x="375.75" y="245.13" width="2.3" height="96.62" fill="#a2a2a2" stroke="#333" stroke-width="0.55"/>
<rect x="378.05" y="266.77" width="2.2" height="74.98" fill="#111"/>
<rect x="381.90" y="245.83" width="2.3" height="95.92" fill="#a2a2a2" stroke="#333" stroke-width="0.55"/>
<rect x="384.20" y="266.77" width="2.2" height="74.98" fill="#111"/>
<rect x="388.05" y="245.83" width="2.3" height="95.92" fill="#a2a2a2" stroke="#333" stroke-width="0.55"/>
<rect x="390.35" y="277.86" width="2.2" height="63.89" fill="#111"/>
<rect x="394.20" y="294.23" width="2.3" height="47.52" fill="#a2a2a2" stroke="#333" stroke-width="0.55"/>
<rect x="396.50" y="318.87" width="2.2" height="22.88" fill="#111"/>
<rect x="400.35" y="240.20" width="2.3" height="101.55" fill="#a2a2a2" stroke="#333" stroke-width="0.55"/>
<rect x="402.65" y="274.52" width="2.2" height="67.23" fill="#111"/>
<rect x="406.50" y="239.67" width="2.3" height="102.08" fill="#a2a2a2" stroke="#333" stroke-width="0.55"/>
<rect x="408.80" y="271.00" width="2.2" height="70.75" fill="#111"/>
<rect x="412.65" y="240.20" width="2.3" height="101.55" fill="#a2a2a2" stroke="#333" stroke-width="0.55"/>
<rect x="414.95" y="268.89" width="2.2" height="72.86" fill="#111"/>
<rect x="418.80" y="261.32" width="2.3" height="80.43" fill="#a2a2a2" stroke="#333" stroke-width="0.55"/>
<rect x="421.10" y="282.26" width="2.2" height="59.49" fill="#111"/>
<rect x="424.95" y="272.05" width="2.3" height="69.70" fill="#a2a2a2" stroke="#333" stroke-width="0.55"/>
<rect x="427.25" y="284.90" width="2.2" height="56.85" fill="#111"/>
<rect x="431.10" y="282.61" width="2.3" height="59.14" fill="#a2a2a2" stroke="#333" stroke-width="0.55"/>
<rect x="433.40" y="280.68" width="2.2" height="61.07" fill="#111"/>
<rect x="437.25" y="292.29" width="2.3" height="49.46" fill="#a2a2a2" stroke="#333" stroke-width="0.55"/>
<rect x="439.55" y="284.90" width="2.2" height="56.85" fill="#111"/>
<rect x="443.40" y="306.20" width="2.3" height="35.55" fill="#a2a2a2" stroke="#333" stroke-width="0.55"/>
<rect x="445.70" y="291.24" width="2.2" height="50.51" fill="#111"/>
<rect x="449.55" y="308.84" width="2.3" height="32.91" fill="#a2a2a2" stroke="#333" stroke-width="0.55"/>
<rect x="451.85" y="294.41" width="2.2" height="47.34" fill="#111"/>
<rect x="455.70" y="307.61" width="2.3" height="34.14" fill="#a2a2a2" stroke="#333" stroke-width="0.55"/>
<rect x="458.00" y="297.57" width="2.2" height="44.18" fill="#111"/>
<rect x="461.85" y="307.61" width="2.3" height="34.14" fill="#a2a2a2" stroke="#333" stroke-width="0.55"/>
<rect x="464.15" y="296.17" width="2.2" height="45.58" fill="#111"/>
<rect x="468.00" y="311.30" width="2.3" height="30.45" fill="#a2a2a2" stroke="#333" stroke-width="0.55"/>
<rect x="470.30" y="296.17" width="2.2" height="45.58" fill="#111"/>
<rect x="474.15" y="314.65" width="2.3" height="27.10" fill="#a2a2a2" stroke="#333" stroke-width="0.55"/>
<rect x="476.45" y="296.17" width="2.2" height="45.58" fill="#111"/>
<rect x="480.30" y="317.46" width="2.3" height="24.29" fill="#a2a2a2" stroke="#333" stroke-width="0.55"/>
<rect x="482.60" y="299.16" width="2.2" height="42.59" fill="#111"/>
<rect x="486.45" y="316.76" width="2.3" height="24.99" fill="#a2a2a2" stroke="#333" stroke-width="0.55"/>
<rect x="488.75" y="307.08" width="2.2" height="34.67" fill="#111"/>
<rect x="492.60" y="320.98" width="2.3" height="20.77" fill="#a2a2a2" stroke="#333" stroke-width="0.55"/>
<rect x="494.90" y="310.42" width="2.2" height="31.33" fill="#111"/>
<rect x="498.75" y="325.21" width="2.3" height="16.54" fill="#a2a2a2" stroke="#333" stroke-width="0.55"/>
<rect x="501.05" y="318.87" width="2.2" height="22.88" fill="#111"/>
<rect x="504.90" y="338.58" width="2.3" height="3.17" fill="#a2a2a2" stroke="#333" stroke-width="0.55"/>
<rect x="507.20" y="337.00" width="2.2" height="4.75" fill="#111"/>
<rect x="345.90" y="188.60" width="11.20" height="11.20" fill="#fff" stroke="#111" stroke-width="1.3"/>
<rect x="345.90" y="205.80" width="11.20" height="11.20" fill="#111" stroke="#111" stroke-width="1.3"/>
<text x="361" y="199" font-size="11.6" fill="#111" textLength="84" lengthAdjust="spacingAndGlyphs">WT: 63 ± 0.5 (°)</text>
<text x="361" y="216" font-size="11.6" fill="#111" textLength="98" lengthAdjust="spacingAndGlyphs">KI: 77 ± 0.4 (°) ***</text>
<text transform="translate(1.50 401.80)" font-size="20" text-anchor="start" font-weight="bold" fill="#111" >E</text>
<text transform="translate(46.00 401.50)" font-size="11" text-anchor="middle" font-weight="normal" fill="#111" textLength="47.2" lengthAdjust="spacingAndGlyphs" >iv injection</text>
<text transform="translate(46.00 413.80)" font-size="11" text-anchor="middle" font-weight="normal" fill="#111" textLength="54.8" lengthAdjust="spacingAndGlyphs" >of unlabeled</text>
<text transform="translate(46.00 426.10)" font-size="11" text-anchor="middle" font-weight="normal" fill="#111" textLength="29.5" lengthAdjust="spacingAndGlyphs" >M17/4</text>
<text transform="translate(106.40 401.50)" font-size="11" text-anchor="middle" font-weight="normal" fill="#111" >ex vivo</text>
<text transform="translate(106.40 413.80)" font-size="11" text-anchor="middle" font-weight="normal" fill="#111" textLength="54.3" lengthAdjust="spacingAndGlyphs" >staining with</text>
<text transform="translate(106.40 426.10)" font-size="11" text-anchor="middle" font-weight="normal" fill="#111" textLength="53.6" lengthAdjust="spacingAndGlyphs" >FITC-M17/4</text>
<line x1="19.80" y1="429.70" x2="73.20" y2="429.70" stroke="#8c8c8c" stroke-width="1.6" />
<line x1="79.20" y1="429.70" x2="133.80" y2="429.70" stroke="#8c8c8c" stroke-width="1.6" />
<text transform="translate(45.00 458.60)" font-size="14" text-anchor="middle" font-weight="normal" fill="#111" >(-)</text>
<text transform="translate(103.90 458.60) scale(0.9 1.0)" font-size="14" text-anchor="middle" font-weight="normal" fill="#111" >(+)</text>
<text transform="translate(47.30 501.00) scale(0.9 1.0)" font-size="14" text-anchor="middle" font-weight="normal" fill="#111" >(+)</text>
<text transform="translate(104.20 501.00) scale(0.9 1.0)" font-size="14" text-anchor="middle" font-weight="normal" fill="#111" >(+)</text>
<text transform="translate(47.30 543.00) scale(0.9 1.0)" font-size="14" text-anchor="middle" font-weight="normal" fill="#111" >(+)</text>
<text transform="translate(102.50 543.00)" font-size="14" text-anchor="middle" font-weight="normal" fill="#111" >(-)</text>
<rect x="141.60" y="428.60" width="86.10" height="126.70" fill="#fff" stroke="#111" stroke-width="1.4"/>
<line x1="141.60" y1="472.10" x2="227.70" y2="472.10" stroke="#111" stroke-width="1.4" />
<line x1="141.60" y1="516.40" x2="227.70" y2="516.40" stroke="#111" stroke-width="1.4" />
<polyline points="141.60,472.10 184.20,472.00 186.20,470.80 187.30,466.20 188.50,459.20 189.20,451.50 189.60,444.60 190.20,440.80 191.20,439.40 192.10,440.40 192.70,445.40 193.50,453.10 194.60,460.80 195.60,466.20 196.90,468.50 198.50,470.00 200.00,471.50 202.70,472.10" fill="none" stroke="#111" stroke-width="1.5" stroke-linejoin="round" />
<polyline points="141.40,507.40 143.40,504.70 145.40,502.70 146.70,504.00 148.10,505.40 149.40,503.40 150.80,500.70 152.10,502.00 153.50,498.60 154.80,500.70 156.20,496.60 157.50,496.60 158.90,494.60 160.20,491.90 161.60,489.90 162.90,487.20 164.20,484.50 165.60,483.60 166.90,482.50 168.30,483.80 169.60,484.90 171.00,487.20 172.30,489.90 173.70,492.60 175.00,494.60 176.40,496.20 177.70,497.30 179.00,498.60 180.40,500.70 181.30,497.00 182.40,498.00 183.80,500.70 185.10,503.40 186.50,506.00 187.80,508.70 189.10,511.40 190.80,513.50 192.50,514.80 194.50,515.70 197.20,516.10 199.90,516.40" fill="none" stroke="#111" stroke-width="1.5" stroke-linejoin="round" />
<polyline points="141.70,545.50 143.20,545.50 144.30,544.30 145.50,542.90 146.70,544.30 147.80,544.90 149.00,542.20 149.90,540.30 150.90,542.90 152.10,541.40 153.20,539.70 154.70,536.20 155.90,539.10 157.00,536.80 158.20,534.50 159.30,532.80 160.50,535.70 161.70,533.90 162.50,530.50 163.40,527.60 164.30,526.40 165.10,528.20 166.30,529.30 167.10,531.60 168.20,534.50 169.70,536.80 170.90,540.80 172.00,545.50 173.20,550.10 174.00,551.80 174.70,547.20 175.80,548.90 177.20,550.70 179.00,552.40 180.70,553.30 183.00,554.10 185.30,554.70 188.80,554.90 193.40,555.10 198.00,555.30" fill="none" stroke="#111" stroke-width="1.5" stroke-linejoin="round" />
<line x1="141.80" y1="555.30" x2="141.80" y2="557.80" stroke="#111" stroke-width="1" />
<line x1="159.60" y1="555.30" x2="159.60" y2="557.80" stroke="#111" stroke-width="1" />
<line x1="180.00" y1="555.30" x2="180.00" y2="557.80" stroke="#111" stroke-width="1" />
<line x1="200.30" y1="555.30" x2="200.30" y2="557.80" stroke="#111" stroke-width="1" />
<line x1="221.30" y1="555.30" x2="221.30" y2="557.80" stroke="#111" stroke-width="1" />
<text transform="translate(142.30 569.30)" font-size="10.5" text-anchor="middle" font-weight="normal" fill="#111" >0</text>
<text x="155.00" y="569.3" font-size="10.5" fill="#111" textLength="9" lengthAdjust="spacingAndGlyphs">10</text>
<text x="164.60" y="565.2" font-size="6.5" fill="#111">2</text>
<text x="175.20" y="569.3" font-size="10.5" fill="#111" textLength="9" lengthAdjust="spacingAndGlyphs">10</text>
<text x="184.80" y="565.2" font-size="6.5" fill="#111">3</text>
<text x="195.40" y="569.3" font-size="10.5" fill="#111" textLength="9" lengthAdjust="spacingAndGlyphs">10</text>
<text x="205.00" y="565.2" font-size="6.5" fill="#111">4</text>
<text x="215.60" y="569.3" font-size="10.5" fill="#111" textLength="9" lengthAdjust="spacingAndGlyphs">10</text>
<text x="225.20" y="565.2" font-size="6.5" fill="#111">5</text>
<text transform="translate(172.00 583.50)" font-size="11" text-anchor="start" font-weight="normal" fill="#111" textLength="25.8" lengthAdjust="spacingAndGlyphs" >LFA-1</text>
<text transform="translate(246.80 403.00)" font-size="20" text-anchor="start" font-weight="bold" fill="#111" >F</text>
<line x1="293.80" y1="437.50" x2="293.80" y2="538.80" stroke="#111" stroke-width="1.4" />
<line x1="293.10" y1="538.20" x2="424.00" y2="538.20" stroke="#111" stroke-width="1.4" />
<line x1="289.20" y1="538.20" x2="293.80" y2="538.20" stroke="#111" stroke-width="1.3" />
<text transform="translate(287.30 540.60)" font-size="10.6" text-anchor="end" font-weight="normal" fill="#111" >0</text>
<line x1="289.20" y1="518.08" x2="293.80" y2="518.08" stroke="#111" stroke-width="1.3" />
<text transform="translate(287.30 520.48)" font-size="10.6" text-anchor="end" font-weight="normal" fill="#111" >0.2</text>
<line x1="289.20" y1="497.96" x2="293.80" y2="497.96" stroke="#111" stroke-width="1.3" />
<text transform="translate(287.30 500.36)" font-size="10.6" text-anchor="end" font-weight="normal" fill="#111" >0.4</text>
<line x1="289.20" y1="477.84" x2="293.80" y2="477.84" stroke="#111" stroke-width="1.3" />
<text transform="translate(287.30 480.24)" font-size="10.6" text-anchor="end" font-weight="normal" fill="#111" >0.6</text>
<line x1="289.20" y1="457.72" x2="293.80" y2="457.72" stroke="#111" stroke-width="1.3" />
<text transform="translate(287.30 460.12)" font-size="10.6" text-anchor="end" font-weight="normal" fill="#111" >0.8</text>
<line x1="289.20" y1="437.60" x2="293.80" y2="437.60" stroke="#111" stroke-width="1.3" />
<text transform="translate(287.30 440.00)" font-size="10.6" text-anchor="end" font-weight="normal" fill="#111" >1</text>
<line x1="306.40" y1="438.61" x2="306.40" y2="464.76" stroke="#111" stroke-width="1.3" />
<line x1="306.40" y1="500.48" x2="306.40" y2="536.19" stroke="#111" stroke-width="1.3" />
<line x1="302.50" y1="438.61" x2="310.50" y2="438.61" stroke="#111" stroke-width="1.3" />
<line x1="302.50" y1="536.19" x2="310.50" y2="536.19" stroke="#111" stroke-width="1.3" />
<rect x="297.90" y="464.76" width="17.00" height="35.71" fill="#fff" stroke="#111" stroke-width="1.3"/>
<line x1="297.90" y1="482.87" x2="314.90" y2="482.87" stroke="#111" stroke-width="1.3" />
<circle cx="306.40" cy="482.87" r="1.4" fill="#111"/>
<line x1="331.65" y1="440.62" x2="331.65" y2="467.28" stroke="#111" stroke-width="1.3" />
<line x1="331.65" y1="506.01" x2="331.65" y2="535.18" stroke="#111" stroke-width="1.3" />
<line x1="327.50" y1="440.62" x2="336.10" y2="440.62" stroke="#111" stroke-width="1.3" />
<line x1="327.50" y1="535.18" x2="336.10" y2="535.18" stroke="#111" stroke-width="1.3" />
<rect x="322.90" y="467.28" width="17.50" height="38.73" fill="#a0a0a0" stroke="#111" stroke-width="1.3"/>
<line x1="322.90" y1="487.40" x2="340.40" y2="487.40" stroke="#111" stroke-width="1.3" />
<circle cx="331.65" cy="486.89" r="1.4" fill="#111"/>
<line x1="382.60" y1="438.61" x2="382.60" y2="473.82" stroke="#111" stroke-width="1.3" />
<line x1="382.60" y1="508.32" x2="382.60" y2="536.19" stroke="#111" stroke-width="1.3" />
<line x1="376.90" y1="438.61" x2="387.70" y2="438.61" stroke="#111" stroke-width="1.3" />
<line x1="376.90" y1="536.19" x2="387.70" y2="536.19" stroke="#111" stroke-width="1.3" />
<rect x="373.80" y="473.82" width="17.60" height="34.51" fill="#fff" stroke="#111" stroke-width="1.3"/>
<line x1="373.80" y1="490.92" x2="391.40" y2="490.92" stroke="#111" stroke-width="1.3" />
<circle cx="382.60" cy="490.42" r="1.4" fill="#111"/>
<line x1="407.85" y1="439.61" x2="407.85" y2="475.83" stroke="#111" stroke-width="1.3" />
<line x1="407.85" y1="511.44" x2="407.85" y2="536.19" stroke="#111" stroke-width="1.3" />
<line x1="402.50" y1="439.61" x2="412.90" y2="439.61" stroke="#111" stroke-width="1.3" />
<line x1="402.50" y1="536.19" x2="412.90" y2="536.19" stroke="#111" stroke-width="1.3" />
<rect x="399.40" y="475.83" width="16.90" height="35.61" fill="#a0a0a0" stroke="#111" stroke-width="1.3"/>
<line x1="399.40" y1="494.44" x2="416.30" y2="494.44" stroke="#111" stroke-width="1.3" />
<circle cx="407.85" cy="492.93" r="1.4" fill="#111"/>
<text transform="translate(320.60 552.80)" font-size="12" text-anchor="middle" font-weight="normal" fill="#111" textLength="14.8" lengthAdjust="spacingAndGlyphs" >WT</text>
<text transform="translate(395.40 552.80)" font-size="12" text-anchor="middle" font-weight="normal" fill="#111" textLength="9.2" lengthAdjust="spacingAndGlyphs" >KI</text>
<text transform="translate(268.00 485.90) rotate(-90)" font-size="12" text-anchor="middle" font-weight="normal" fill="#111" textLength="98" lengthAdjust="spacingAndGlyphs" >Meandering index</text>
<rect x="426.90" y="436.90" width="11.60" height="11.10" fill="#fff" stroke="#111" stroke-width="1.4"/>
<rect x="426.90" y="452.80" width="11.60" height="11.30" fill="#a0a0a0" stroke="#111" stroke-width="1.4"/>
<text transform="translate(442.80 445.00)" font-size="10.2" text-anchor="start" font-weight="normal" fill="#111" textLength="30.6" lengthAdjust="spacingAndGlyphs" >control</text>
<text transform="translate(442.30 462.20)" font-size="10.8" text-anchor="start" font-weight="normal" fill="#111" textLength="27.6" lengthAdjust="spacingAndGlyphs" >M17/4</text>
<text transform="translate(1.50 605.00)" font-size="20" text-anchor="start" font-weight="bold" fill="#111" >G</text>
<line x1="42.00" y1="632.00" x2="42.00" y2="733.20" stroke="#111" stroke-width="1.4" />
<line x1="41.30" y1="732.60" x2="174.00" y2="732.60" stroke="#111" stroke-width="1.4" />
<line x1="39.10" y1="732.60" x2="42.00" y2="732.60" stroke="#111" stroke-width="1.3" />
<text transform="translate(35.90 736.80)" font-size="10.4" text-anchor="end" font-weight="normal" fill="#111" >0</text>
<line x1="39.10" y1="707.48" x2="42.00" y2="707.48" stroke="#111" stroke-width="1.3" />
<text transform="translate(35.90 711.68)" font-size="10.4" text-anchor="end" font-weight="normal" fill="#111" >10</text>
<line x1="39.10" y1="682.35" x2="42.00" y2="682.35" stroke="#111" stroke-width="1.3" />
<text transform="translate(35.90 686.55)" font-size="10.4" text-anchor="end" font-weight="normal" fill="#111" >20</text>
<line x1="39.10" y1="657.23" x2="42.00" y2="657.23" stroke="#111" stroke-width="1.3" />
<text transform="translate(35.90 661.43)" font-size="10.4" text-anchor="end" font-weight="normal" fill="#111" >30</text>
<line x1="39.10" y1="632.10" x2="42.00" y2="632.10" stroke="#111" stroke-width="1.3" />
<text transform="translate(35.90 636.30)" font-size="10.4" text-anchor="end" font-weight="normal" fill="#111" >40</text>
<line x1="55.75" y1="632.10" x2="55.75" y2="673.31" stroke="#111" stroke-width="1.3" />
<line x1="55.75" y1="709.23" x2="55.75" y2="732.10" stroke="#111" stroke-width="1.3" />
<line x1="52.00" y1="632.10" x2="60.00" y2="632.10" stroke="#111" stroke-width="1.3" />
<line x1="52.00" y1="732.10" x2="60.00" y2="732.10" stroke="#111" stroke-width="1.3" />
<rect x="47.00" y="673.31" width="17.50" height="35.93" fill="#fff" stroke="#111" stroke-width="1.3"/>
<line x1="47.00" y1="693.91" x2="64.50" y2="693.91" stroke="#111" stroke-width="1.3" />
<line x1="52.95" y1="689.89" x2="58.55" y2="689.89" stroke="#111" stroke-width="1.3" />
<line x1="55.75" y1="686.89" x2="55.75" y2="692.89" stroke="#111" stroke-width="1.3" />
<line x1="81.50" y1="632.10" x2="81.50" y2="677.83" stroke="#111" stroke-width="1.3" />
<line x1="81.50" y1="710.74" x2="81.50" y2="732.10" stroke="#111" stroke-width="1.3" />
<line x1="77.50" y1="632.10" x2="85.50" y2="632.10" stroke="#111" stroke-width="1.3" />
<line x1="77.50" y1="732.10" x2="85.50" y2="732.10" stroke="#111" stroke-width="1.3" />
<rect x="72.50" y="677.83" width="18.00" height="32.91" fill="#a0a0a0" stroke="#111" stroke-width="1.3"/>
<line x1="72.50" y1="696.92" x2="90.50" y2="696.92" stroke="#111" stroke-width="1.3" />
<line x1="78.70" y1="692.90" x2="84.30" y2="692.90" stroke="#111" stroke-width="1.3" />
<line x1="81.50" y1="689.90" x2="81.50" y2="695.90" stroke="#111" stroke-width="1.3" />
<line x1="134.05" y1="632.10" x2="134.05" y2="673.31" stroke="#111" stroke-width="1.3" />
<line x1="134.05" y1="709.23" x2="134.05" y2="732.10" stroke="#111" stroke-width="1.3" />
<line x1="129.60" y1="632.10" x2="139.60" y2="632.10" stroke="#111" stroke-width="1.3" />
<line x1="129.60" y1="732.10" x2="139.60" y2="732.10" stroke="#111" stroke-width="1.3" />
<rect x="125.00" y="673.31" width="18.10" height="35.93" fill="#fff" stroke="#111" stroke-width="1.3"/>
<line x1="125.00" y1="693.40" x2="143.10" y2="693.40" stroke="#111" stroke-width="1.3" />
<line x1="131.25" y1="689.38" x2="136.85" y2="689.38" stroke="#111" stroke-width="1.3" />
<line x1="134.05" y1="686.38" x2="134.05" y2="692.38" stroke="#111" stroke-width="1.3" />
<line x1="161.00" y1="632.10" x2="161.00" y2="676.82" stroke="#111" stroke-width="1.3" />
<line x1="161.00" y1="710.99" x2="161.00" y2="732.10" stroke="#111" stroke-width="1.3" />
<line x1="156.50" y1="632.10" x2="166.00" y2="632.10" stroke="#111" stroke-width="1.3" />
<line x1="156.50" y1="732.10" x2="166.00" y2="732.10" stroke="#111" stroke-width="1.3" />
<rect x="152.00" y="676.82" width="18.00" height="34.17" fill="#a0a0a0" stroke="#111" stroke-width="1.3"/>
<line x1="152.00" y1="696.17" x2="170.00" y2="696.17" stroke="#111" stroke-width="1.3" />
<line x1="158.20" y1="691.65" x2="163.80" y2="691.65" stroke="#111" stroke-width="1.3" />
<line x1="161.00" y1="688.65" x2="161.00" y2="694.65" stroke="#111" stroke-width="1.3" />
<text transform="translate(68.70 747.40)" font-size="12" text-anchor="middle" font-weight="normal" fill="#111" textLength="15.8" lengthAdjust="spacingAndGlyphs" >WT</text>
<text transform="translate(146.00 747.40)" font-size="12" text-anchor="middle" font-weight="normal" fill="#111" textLength="9.6" lengthAdjust="spacingAndGlyphs" >KI</text>
<text transform="translate(18.60 681.80) rotate(-90)" font-size="12" text-anchor="middle" font-weight="normal" fill="#111" textLength="112.5" lengthAdjust="spacingAndGlyphs" >Mean 3DIV (µm/min)</text>
<rect x="188.40" y="630.10" width="11.50" height="11.20" fill="#fff" stroke="#111" stroke-width="1.4"/>
<rect x="188.40" y="646.80" width="11.50" height="11.00" fill="#a0a0a0" stroke="#111" stroke-width="1.4"/>
<text transform="translate(204.20 639.00)" font-size="10.2" text-anchor="start" font-weight="normal" fill="#111" textLength="30.6" lengthAdjust="spacingAndGlyphs" >control</text>
<text transform="translate(203.50 655.70)" font-size="10.8" text-anchor="start" font-weight="normal" fill="#111" textLength="27.8" lengthAdjust="spacingAndGlyphs" >M17/4</text>
<text transform="translate(244.00 607.00)" font-size="20" text-anchor="start" font-weight="bold" fill="#111" >H</text>
<line x1="289.10" y1="620.50" x2="289.10" y2="742.10" stroke="#111" stroke-width="1.4" />
<line x1="288.40" y1="741.50" x2="470.60" y2="741.50" stroke="#111" stroke-width="1.4" />
<line x1="285.20" y1="741.50" x2="289.10" y2="741.50" stroke="#111" stroke-width="1.3" />
<text transform="translate(283.40 746.30) scale(0.93 1.0)" font-size="11" text-anchor="end" font-weight="normal" fill="#111" >0</text>
<line x1="285.20" y1="717.36" x2="289.10" y2="717.36" stroke="#111" stroke-width="1.3" />
<text transform="translate(283.40 722.16) scale(0.93 1.0)" font-size="11" text-anchor="end" font-weight="normal" fill="#111" >10</text>
<line x1="285.20" y1="693.22" x2="289.10" y2="693.22" stroke="#111" stroke-width="1.3" />
<text transform="translate(283.40 698.02) scale(0.93 1.0)" font-size="11" text-anchor="end" font-weight="normal" fill="#111" >20</text>
<line x1="285.20" y1="669.08" x2="289.10" y2="669.08" stroke="#111" stroke-width="1.3" />
<text transform="translate(283.40 673.88) scale(0.93 1.0)" font-size="11" text-anchor="end" font-weight="normal" fill="#111" >30</text>
<line x1="285.20" y1="644.94" x2="289.10" y2="644.94" stroke="#111" stroke-width="1.3" />
<text transform="translate(283.40 649.74) scale(0.93 1.0)" font-size="11" text-anchor="end" font-weight="normal" fill="#111" >40</text>
<line x1="285.20" y1="620.80" x2="289.10" y2="620.80" stroke="#111" stroke-width="1.3" />
<text transform="translate(283.40 625.60) scale(0.93 1.0)" font-size="11" text-anchor="end" font-weight="normal" fill="#111" >50</text>
<line x1="289.10" y1="741.50" x2="289.10" y2="745.50" stroke="#111" stroke-width="1.3" />
<text transform="translate(289.10 758.50) scale(0.95 1.0)" font-size="11" text-anchor="middle" font-weight="normal" fill="#111" >0</text>
<line x1="340.95" y1="741.50" x2="340.95" y2="745.50" stroke="#111" stroke-width="1.3" />
<text transform="translate(340.95 758.50) scale(0.95 1.0)" font-size="11" text-anchor="middle" font-weight="normal" fill="#111" >1</text>
<line x1="392.80" y1="741.50" x2="392.80" y2="745.50" stroke="#111" stroke-width="1.3" />
<text transform="translate(392.80 758.50) scale(0.95 1.0)" font-size="11" text-anchor="middle" font-weight="normal" fill="#111" >2</text>
<line x1="444.65" y1="741.50" x2="444.65" y2="745.50" stroke="#111" stroke-width="1.3" />
<text transform="translate(444.65 758.50) scale(0.95 1.0)" font-size="11" text-anchor="middle" font-weight="normal" fill="#111" >3</text>
<text x="340.8" y="771" font-size="10.8" fill="#111" textLength="56" lengthAdjust="spacingAndGlyphs">Time (min<tspan font-size="6.5" dy="-4.2">1/2</tspan><tspan dy="4.2">)</tspan></text>
<text transform="translate(265.70 681.40) rotate(-90)" font-size="12" text-anchor="middle" font-weight="normal" fill="#111" textLength="135.5" lengthAdjust="spacingAndGlyphs" >Mean displacement (µm)</text>
<line x1="349.97" y1="699.01" x2="349.97" y2="696.12" stroke="#666" stroke-width="0.8" />
<line x1="348.17" y1="696.12" x2="351.77" y2="696.12" stroke="#666" stroke-width="0.8" />
<line x1="348.17" y1="699.01" x2="351.77" y2="699.01" stroke="#666" stroke-width="0.8" />
<line x1="357.04" y1="692.25" x2="357.04" y2="688.87" stroke="#666" stroke-width="0.8" />
<line x1="355.24" y1="688.87" x2="358.84" y2="688.87" stroke="#666" stroke-width="0.8" />
<line x1="355.24" y1="692.25" x2="358.84" y2="692.25" stroke="#666" stroke-width="0.8" />
<line x1="363.43" y1="687.91" x2="363.43" y2="684.05" stroke="#666" stroke-width="0.8" />
<line x1="361.63" y1="684.05" x2="365.23" y2="684.05" stroke="#666" stroke-width="0.8" />
<line x1="361.63" y1="687.91" x2="365.23" y2="687.91" stroke="#666" stroke-width="0.8" />
<line x1="369.30" y1="683.56" x2="369.30" y2="679.22" stroke="#666" stroke-width="0.8" />
<line x1="367.50" y1="679.22" x2="371.10" y2="679.22" stroke="#666" stroke-width="0.8" />
<line x1="367.50" y1="683.56" x2="371.10" y2="683.56" stroke="#666" stroke-width="0.8" />
<line x1="374.77" y1="679.70" x2="374.77" y2="674.87" stroke="#666" stroke-width="0.8" />
<line x1="372.97" y1="674.87" x2="376.57" y2="674.87" stroke="#666" stroke-width="0.8" />
<line x1="372.97" y1="679.70" x2="376.57" y2="679.70" stroke="#666" stroke-width="0.8" />
<line x1="379.91" y1="676.56" x2="379.91" y2="671.25" stroke="#666" stroke-width="0.8" />
<line x1="378.11" y1="671.25" x2="381.71" y2="671.25" stroke="#666" stroke-width="0.8" />
<line x1="378.11" y1="676.56" x2="381.71" y2="676.56" stroke="#666" stroke-width="0.8" />
<line x1="384.76" y1="673.91" x2="384.76" y2="668.11" stroke="#666" stroke-width="0.8" />
<line x1="382.96" y1="668.11" x2="386.56" y2="668.11" stroke="#666" stroke-width="0.8" />
<line x1="382.96" y1="673.91" x2="386.56" y2="673.91" stroke="#666" stroke-width="0.8" />
<line x1="389.39" y1="671.74" x2="389.39" y2="665.46" stroke="#666" stroke-width="0.8" />
<line x1="387.59" y1="665.46" x2="391.19" y2="665.46" stroke="#666" stroke-width="0.8" />
<line x1="387.59" y1="671.74" x2="391.19" y2="671.74" stroke="#666" stroke-width="0.8" />
<line x1="393.80" y1="671.49" x2="393.80" y2="664.73" stroke="#666" stroke-width="0.8" />
<line x1="392.00" y1="664.73" x2="395.60" y2="664.73" stroke="#666" stroke-width="0.8" />
<line x1="392.00" y1="671.49" x2="395.60" y2="671.49" stroke="#666" stroke-width="0.8" />
<line x1="398.03" y1="671.01" x2="398.03" y2="663.29" stroke="#666" stroke-width="0.8" />
<line x1="396.23" y1="663.29" x2="399.83" y2="663.29" stroke="#666" stroke-width="0.8" />
<line x1="396.23" y1="671.01" x2="399.83" y2="671.01" stroke="#666" stroke-width="0.8" />
<line x1="402.11" y1="666.42" x2="402.11" y2="657.25" stroke="#666" stroke-width="0.8" />
<line x1="400.31" y1="657.25" x2="403.91" y2="657.25" stroke="#666" stroke-width="0.8" />
<line x1="400.31" y1="666.42" x2="403.91" y2="666.42" stroke="#666" stroke-width="0.8" />
<line x1="406.04" y1="665.94" x2="406.04" y2="656.29" stroke="#666" stroke-width="0.8" />
<line x1="404.24" y1="656.29" x2="407.84" y2="656.29" stroke="#666" stroke-width="0.8" />
<line x1="404.24" y1="665.94" x2="407.84" y2="665.94" stroke="#666" stroke-width="0.8" />
<line x1="409.84" y1="665.46" x2="409.84" y2="655.32" stroke="#666" stroke-width="0.8" />
<line x1="408.04" y1="655.32" x2="411.64" y2="655.32" stroke="#666" stroke-width="0.8" />
<line x1="408.04" y1="665.46" x2="411.64" y2="665.46" stroke="#666" stroke-width="0.8" />
<line x1="413.53" y1="664.49" x2="413.53" y2="654.35" stroke="#666" stroke-width="0.8" />
<line x1="411.73" y1="654.35" x2="415.33" y2="654.35" stroke="#666" stroke-width="0.8" />
<line x1="411.73" y1="664.49" x2="415.33" y2="664.49" stroke="#666" stroke-width="0.8" />
<line x1="417.11" y1="664.01" x2="417.11" y2="653.39" stroke="#666" stroke-width="0.8" />
<line x1="415.31" y1="653.39" x2="418.91" y2="653.39" stroke="#666" stroke-width="0.8" />
<line x1="415.31" y1="664.01" x2="418.91" y2="664.01" stroke="#666" stroke-width="0.8" />
<line x1="420.59" y1="663.53" x2="420.59" y2="652.42" stroke="#666" stroke-width="0.8" />
<line x1="418.79" y1="652.42" x2="422.39" y2="652.42" stroke="#666" stroke-width="0.8" />
<line x1="418.79" y1="663.53" x2="422.39" y2="663.53" stroke="#666" stroke-width="0.8" />
<line x1="423.98" y1="661.60" x2="423.98" y2="650.01" stroke="#666" stroke-width="0.8" />
<line x1="422.18" y1="650.01" x2="425.78" y2="650.01" stroke="#666" stroke-width="0.8" />
<line x1="422.18" y1="661.60" x2="425.78" y2="661.60" stroke="#666" stroke-width="0.8" />
<line x1="427.28" y1="659.42" x2="427.28" y2="641.08" stroke="#666" stroke-width="0.8" />
<line x1="425.48" y1="641.08" x2="429.08" y2="641.08" stroke="#666" stroke-width="0.8" />
<line x1="425.48" y1="659.42" x2="429.08" y2="659.42" stroke="#666" stroke-width="0.8" />
<line x1="430.51" y1="659.18" x2="430.51" y2="640.35" stroke="#666" stroke-width="0.8" />
<line x1="428.71" y1="640.35" x2="432.31" y2="640.35" stroke="#666" stroke-width="0.8" />
<line x1="428.71" y1="659.18" x2="432.31" y2="659.18" stroke="#666" stroke-width="0.8" />
<line x1="433.67" y1="659.42" x2="433.67" y2="640.11" stroke="#666" stroke-width="0.8" />
<line x1="431.87" y1="640.11" x2="435.47" y2="640.11" stroke="#666" stroke-width="0.8" />
<line x1="431.87" y1="659.42" x2="435.47" y2="659.42" stroke="#666" stroke-width="0.8" />
<line x1="436.75" y1="652.66" x2="436.75" y2="632.39" stroke="#666" stroke-width="0.8" />
<line x1="434.95" y1="632.39" x2="438.55" y2="632.39" stroke="#666" stroke-width="0.8" />
<line x1="434.95" y1="652.66" x2="438.55" y2="652.66" stroke="#666" stroke-width="0.8" />
<line x1="439.78" y1="653.15" x2="439.78" y2="631.90" stroke="#666" stroke-width="0.8" />
<line x1="437.98" y1="631.90" x2="441.58" y2="631.90" stroke="#666" stroke-width="0.8" />
<line x1="437.98" y1="653.15" x2="441.58" y2="653.15" stroke="#666" stroke-width="0.8" />
<line x1="442.74" y1="645.42" x2="442.74" y2="623.21" stroke="#666" stroke-width="0.8" />
<line x1="440.94" y1="623.21" x2="444.54" y2="623.21" stroke="#666" stroke-width="0.8" />
<line x1="440.94" y1="645.42" x2="444.54" y2="645.42" stroke="#666" stroke-width="0.8" />
<line x1="445.65" y1="647.84" x2="445.65" y2="571.31" stroke="#666" stroke-width="0.8" />
<line x1="443.85" y1="571.31" x2="447.45" y2="571.31" stroke="#666" stroke-width="0.8" />
<line x1="443.85" y1="647.84" x2="447.45" y2="647.84" stroke="#666" stroke-width="0.8" />
<line x1="357.04" y1="700.78" x2="357.04" y2="697.73" stroke="#666" stroke-width="0.8" />
<line x1="355.24" y1="697.73" x2="358.84" y2="697.73" stroke="#666" stroke-width="0.8" />
<line x1="355.24" y1="700.78" x2="358.84" y2="700.78" stroke="#666" stroke-width="0.8" />
<line x1="363.43" y1="696.41" x2="363.43" y2="692.93" stroke="#666" stroke-width="0.8" />
<line x1="361.63" y1="692.93" x2="365.23" y2="692.93" stroke="#666" stroke-width="0.8" />
<line x1="361.63" y1="696.41" x2="365.23" y2="696.41" stroke="#666" stroke-width="0.8" />
<line x1="369.30" y1="691.31" x2="369.30" y2="687.40" stroke="#666" stroke-width="0.8" />
<line x1="367.50" y1="687.40" x2="371.10" y2="687.40" stroke="#666" stroke-width="0.8" />
<line x1="367.50" y1="691.31" x2="371.10" y2="691.31" stroke="#666" stroke-width="0.8" />
<line x1="374.77" y1="686.46" x2="374.77" y2="682.12" stroke="#666" stroke-width="0.8" />
<line x1="372.97" y1="682.12" x2="376.57" y2="682.12" stroke="#666" stroke-width="0.8" />
<line x1="372.97" y1="686.46" x2="376.57" y2="686.46" stroke="#666" stroke-width="0.8" />
<line x1="379.91" y1="684.99" x2="379.91" y2="680.21" stroke="#666" stroke-width="0.8" />
<line x1="378.11" y1="680.21" x2="381.71" y2="680.21" stroke="#666" stroke-width="0.8" />
<line x1="378.11" y1="684.99" x2="381.71" y2="684.99" stroke="#666" stroke-width="0.8" />
<line x1="384.76" y1="682.79" x2="384.76" y2="677.58" stroke="#666" stroke-width="0.8" />
<line x1="382.96" y1="677.58" x2="386.56" y2="677.58" stroke="#666" stroke-width="0.8" />
<line x1="382.96" y1="682.79" x2="386.56" y2="682.79" stroke="#666" stroke-width="0.8" />
<line x1="389.39" y1="680.11" x2="389.39" y2="674.46" stroke="#666" stroke-width="0.8" />
<line x1="387.59" y1="674.46" x2="391.19" y2="674.46" stroke="#666" stroke-width="0.8" />
<line x1="387.59" y1="680.11" x2="391.19" y2="680.11" stroke="#666" stroke-width="0.8" />
<line x1="393.80" y1="677.92" x2="393.80" y2="671.83" stroke="#666" stroke-width="0.8" />
<line x1="392.00" y1="671.83" x2="395.60" y2="671.83" stroke="#666" stroke-width="0.8" />
<line x1="392.00" y1="677.92" x2="395.60" y2="677.92" stroke="#666" stroke-width="0.8" />
<line x1="398.03" y1="674.49" x2="398.03" y2="667.54" stroke="#666" stroke-width="0.8" />
<line x1="396.23" y1="667.54" x2="399.83" y2="667.54" stroke="#666" stroke-width="0.8" />
<line x1="396.23" y1="674.49" x2="399.83" y2="674.49" stroke="#666" stroke-width="0.8" />
<line x1="402.11" y1="672.24" x2="402.11" y2="663.99" stroke="#666" stroke-width="0.8" />
<line x1="400.31" y1="663.99" x2="403.91" y2="663.99" stroke="#666" stroke-width="0.8" />
<line x1="400.31" y1="672.24" x2="403.91" y2="672.24" stroke="#666" stroke-width="0.8" />
<line x1="406.04" y1="671.49" x2="406.04" y2="662.80" stroke="#666" stroke-width="0.8" />
<line x1="404.24" y1="662.80" x2="407.84" y2="662.80" stroke="#666" stroke-width="0.8" />
<line x1="404.24" y1="671.49" x2="407.84" y2="671.49" stroke="#666" stroke-width="0.8" />
<line x1="409.84" y1="671.23" x2="409.84" y2="662.10" stroke="#666" stroke-width="0.8" />
<line x1="408.04" y1="662.10" x2="411.64" y2="662.10" stroke="#666" stroke-width="0.8" />
<line x1="408.04" y1="671.23" x2="411.64" y2="671.23" stroke="#666" stroke-width="0.8" />
<line x1="413.53" y1="670.26" x2="413.53" y2="661.14" stroke="#666" stroke-width="0.8" />
<line x1="411.73" y1="661.14" x2="415.33" y2="661.14" stroke="#666" stroke-width="0.8" />
<line x1="411.73" y1="670.26" x2="415.33" y2="670.26" stroke="#666" stroke-width="0.8" />
<line x1="417.11" y1="669.51" x2="417.11" y2="659.96" stroke="#666" stroke-width="0.8" />
<line x1="415.31" y1="659.96" x2="418.91" y2="659.96" stroke="#666" stroke-width="0.8" />
<line x1="415.31" y1="669.51" x2="418.91" y2="669.51" stroke="#666" stroke-width="0.8" />
<line x1="420.59" y1="671.18" x2="420.59" y2="661.19" stroke="#666" stroke-width="0.8" />
<line x1="418.79" y1="661.19" x2="422.39" y2="661.19" stroke="#666" stroke-width="0.8" />
<line x1="418.79" y1="671.18" x2="422.39" y2="671.18" stroke="#666" stroke-width="0.8" />
<line x1="423.98" y1="670.91" x2="423.98" y2="660.49" stroke="#666" stroke-width="0.8" />
<line x1="422.18" y1="660.49" x2="425.78" y2="660.49" stroke="#666" stroke-width="0.8" />
<line x1="422.18" y1="670.91" x2="425.78" y2="670.91" stroke="#666" stroke-width="0.8" />
<line x1="427.28" y1="673.47" x2="427.28" y2="656.96" stroke="#666" stroke-width="0.8" />
<line x1="425.48" y1="656.96" x2="429.08" y2="656.96" stroke="#666" stroke-width="0.8" />
<line x1="425.48" y1="673.47" x2="429.08" y2="673.47" stroke="#666" stroke-width="0.8" />
<line x1="430.51" y1="673.69" x2="430.51" y2="656.74" stroke="#666" stroke-width="0.8" />
<line x1="428.71" y1="656.74" x2="432.31" y2="656.74" stroke="#666" stroke-width="0.8" />
<line x1="428.71" y1="673.69" x2="432.31" y2="673.69" stroke="#666" stroke-width="0.8" />
<line x1="433.67" y1="673.43" x2="433.67" y2="656.04" stroke="#666" stroke-width="0.8" />
<line x1="431.87" y1="656.04" x2="435.47" y2="656.04" stroke="#666" stroke-width="0.8" />
<line x1="431.87" y1="673.43" x2="435.47" y2="673.43" stroke="#666" stroke-width="0.8" />
<line x1="436.75" y1="673.14" x2="436.75" y2="654.89" stroke="#666" stroke-width="0.8" />
<line x1="434.95" y1="654.89" x2="438.55" y2="654.89" stroke="#666" stroke-width="0.8" />
<line x1="434.95" y1="673.14" x2="438.55" y2="673.14" stroke="#666" stroke-width="0.8" />
<line x1="439.78" y1="672.85" x2="439.78" y2="653.73" stroke="#666" stroke-width="0.8" />
<line x1="437.98" y1="653.73" x2="441.58" y2="653.73" stroke="#666" stroke-width="0.8" />
<line x1="437.98" y1="672.85" x2="441.58" y2="672.85" stroke="#666" stroke-width="0.8" />
<line x1="442.74" y1="672.80" x2="442.74" y2="652.81" stroke="#666" stroke-width="0.8" />
<line x1="440.94" y1="652.81" x2="444.54" y2="652.81" stroke="#666" stroke-width="0.8" />
<line x1="440.94" y1="672.80" x2="444.54" y2="672.80" stroke="#666" stroke-width="0.8" />
<line x1="445.65" y1="674.15" x2="445.65" y2="650.01" stroke="#666" stroke-width="0.8" />
<line x1="443.85" y1="650.01" x2="447.45" y2="650.01" stroke="#666" stroke-width="0.8" />
<line x1="443.85" y1="674.15" x2="447.45" y2="674.15" stroke="#666" stroke-width="0.8" />
<line x1="363.43" y1="699.11" x2="363.43" y2="696.02" stroke="#666" stroke-width="0.8" />
<line x1="361.63" y1="696.02" x2="365.23" y2="696.02" stroke="#666" stroke-width="0.8" />
<line x1="361.63" y1="699.11" x2="365.23" y2="699.11" stroke="#666" stroke-width="0.8" />
<line x1="369.30" y1="696.89" x2="369.30" y2="693.41" stroke="#666" stroke-width="0.8" />
<line x1="367.50" y1="693.41" x2="371.10" y2="693.41" stroke="#666" stroke-width="0.8" />
<line x1="367.50" y1="696.89" x2="371.10" y2="696.89" stroke="#666" stroke-width="0.8" />
<line x1="374.77" y1="694.91" x2="374.77" y2="691.05" stroke="#666" stroke-width="0.8" />
<line x1="372.97" y1="691.05" x2="376.57" y2="691.05" stroke="#666" stroke-width="0.8" />
<line x1="372.97" y1="694.91" x2="376.57" y2="694.91" stroke="#666" stroke-width="0.8" />
<line x1="379.91" y1="692.69" x2="379.91" y2="688.44" stroke="#666" stroke-width="0.8" />
<line x1="378.11" y1="688.44" x2="381.71" y2="688.44" stroke="#666" stroke-width="0.8" />
<line x1="378.11" y1="692.69" x2="381.71" y2="692.69" stroke="#666" stroke-width="0.8" />
<line x1="384.76" y1="691.19" x2="384.76" y2="686.56" stroke="#666" stroke-width="0.8" />
<line x1="382.96" y1="686.56" x2="386.56" y2="686.56" stroke="#666" stroke-width="0.8" />
<line x1="382.96" y1="691.19" x2="386.56" y2="691.19" stroke="#666" stroke-width="0.8" />
<line x1="389.39" y1="690.18" x2="389.39" y2="685.16" stroke="#666" stroke-width="0.8" />
<line x1="387.59" y1="685.16" x2="391.19" y2="685.16" stroke="#666" stroke-width="0.8" />
<line x1="387.59" y1="690.18" x2="391.19" y2="690.18" stroke="#666" stroke-width="0.8" />
<line x1="393.80" y1="690.13" x2="393.80" y2="684.72" stroke="#666" stroke-width="0.8" />
<line x1="392.00" y1="684.72" x2="395.60" y2="684.72" stroke="#666" stroke-width="0.8" />
<line x1="392.00" y1="690.13" x2="395.60" y2="690.13" stroke="#666" stroke-width="0.8" />
<line x1="398.03" y1="690.27" x2="398.03" y2="684.10" stroke="#666" stroke-width="0.8" />
<line x1="396.23" y1="684.10" x2="399.83" y2="684.10" stroke="#666" stroke-width="0.8" />
<line x1="396.23" y1="690.27" x2="399.83" y2="690.27" stroke="#666" stroke-width="0.8" />
<line x1="402.11" y1="690.61" x2="402.11" y2="683.27" stroke="#666" stroke-width="0.8" />
<line x1="400.31" y1="683.27" x2="403.91" y2="683.27" stroke="#666" stroke-width="0.8" />
<line x1="400.31" y1="690.61" x2="403.91" y2="690.61" stroke="#666" stroke-width="0.8" />
<line x1="406.04" y1="690.08" x2="406.04" y2="682.36" stroke="#666" stroke-width="0.8" />
<line x1="404.24" y1="682.36" x2="407.84" y2="682.36" stroke="#666" stroke-width="0.8" />
<line x1="404.24" y1="690.08" x2="407.84" y2="690.08" stroke="#666" stroke-width="0.8" />
<line x1="409.84" y1="689.55" x2="409.84" y2="681.44" stroke="#666" stroke-width="0.8" />
<line x1="408.04" y1="681.44" x2="411.64" y2="681.44" stroke="#666" stroke-width="0.8" />
<line x1="408.04" y1="689.55" x2="411.64" y2="689.55" stroke="#666" stroke-width="0.8" />
<line x1="413.53" y1="688.83" x2="413.53" y2="680.72" stroke="#666" stroke-width="0.8" />
<line x1="411.73" y1="680.72" x2="415.33" y2="680.72" stroke="#666" stroke-width="0.8" />
<line x1="411.73" y1="688.83" x2="415.33" y2="688.83" stroke="#666" stroke-width="0.8" />
<line x1="417.11" y1="686.85" x2="417.11" y2="678.35" stroke="#666" stroke-width="0.8" />
<line x1="415.31" y1="678.35" x2="418.91" y2="678.35" stroke="#666" stroke-width="0.8" />
<line x1="415.31" y1="686.85" x2="418.91" y2="686.85" stroke="#666" stroke-width="0.8" />
<line x1="420.59" y1="686.56" x2="420.59" y2="677.67" stroke="#666" stroke-width="0.8" />
<line x1="418.79" y1="677.67" x2="422.39" y2="677.67" stroke="#666" stroke-width="0.8" />
<line x1="418.79" y1="686.56" x2="422.39" y2="686.56" stroke="#666" stroke-width="0.8" />
<line x1="423.98" y1="686.27" x2="423.98" y2="677.00" stroke="#666" stroke-width="0.8" />
<line x1="422.18" y1="677.00" x2="425.78" y2="677.00" stroke="#666" stroke-width="0.8" />
<line x1="422.18" y1="686.27" x2="425.78" y2="686.27" stroke="#666" stroke-width="0.8" />
<line x1="427.28" y1="687.28" x2="427.28" y2="672.60" stroke="#666" stroke-width="0.8" />
<line x1="425.48" y1="672.60" x2="429.08" y2="672.60" stroke="#666" stroke-width="0.8" />
<line x1="425.48" y1="687.28" x2="429.08" y2="687.28" stroke="#666" stroke-width="0.8" />
<line x1="430.51" y1="682.65" x2="430.51" y2="667.58" stroke="#666" stroke-width="0.8" />
<line x1="428.71" y1="667.58" x2="432.31" y2="667.58" stroke="#666" stroke-width="0.8" />
<line x1="428.71" y1="682.65" x2="432.31" y2="682.65" stroke="#666" stroke-width="0.8" />
<line x1="433.67" y1="678.98" x2="433.67" y2="663.53" stroke="#666" stroke-width="0.8" />
<line x1="431.87" y1="663.53" x2="435.47" y2="663.53" stroke="#666" stroke-width="0.8" />
<line x1="431.87" y1="678.98" x2="435.47" y2="678.98" stroke="#666" stroke-width="0.8" />
<line x1="436.75" y1="680.81" x2="436.75" y2="664.59" stroke="#666" stroke-width="0.8" />
<line x1="434.95" y1="664.59" x2="438.55" y2="664.59" stroke="#666" stroke-width="0.8" />
<line x1="434.95" y1="680.81" x2="438.55" y2="680.81" stroke="#666" stroke-width="0.8" />
<line x1="439.78" y1="684.82" x2="439.78" y2="667.82" stroke="#666" stroke-width="0.8" />
<line x1="437.98" y1="667.82" x2="441.58" y2="667.82" stroke="#666" stroke-width="0.8" />
<line x1="437.98" y1="684.82" x2="441.58" y2="684.82" stroke="#666" stroke-width="0.8" />
<line x1="442.74" y1="686.41" x2="442.74" y2="668.65" stroke="#666" stroke-width="0.8" />
<line x1="440.94" y1="668.65" x2="444.54" y2="668.65" stroke="#666" stroke-width="0.8" />
<line x1="440.94" y1="686.41" x2="444.54" y2="686.41" stroke="#666" stroke-width="0.8" />
<line x1="445.65" y1="693.46" x2="445.65" y2="674.15" stroke="#666" stroke-width="0.8" />
<line x1="443.85" y1="674.15" x2="447.45" y2="674.15" stroke="#666" stroke-width="0.8" />
<line x1="443.85" y1="693.46" x2="447.45" y2="693.46" stroke="#666" stroke-width="0.8" />
<line x1="363.43" y1="702.97" x2="363.43" y2="699.88" stroke="#666" stroke-width="0.8" />
<line x1="361.63" y1="699.88" x2="365.23" y2="699.88" stroke="#666" stroke-width="0.8" />
<line x1="361.63" y1="702.97" x2="365.23" y2="702.97" stroke="#666" stroke-width="0.8" />
<line x1="369.30" y1="700.75" x2="369.30" y2="697.28" stroke="#666" stroke-width="0.8" />
<line x1="367.50" y1="697.28" x2="371.10" y2="697.28" stroke="#666" stroke-width="0.8" />
<line x1="367.50" y1="700.75" x2="371.10" y2="700.75" stroke="#666" stroke-width="0.8" />
<line x1="374.77" y1="699.01" x2="374.77" y2="695.15" stroke="#666" stroke-width="0.8" />
<line x1="372.97" y1="695.15" x2="376.57" y2="695.15" stroke="#666" stroke-width="0.8" />
<line x1="372.97" y1="699.01" x2="376.57" y2="699.01" stroke="#666" stroke-width="0.8" />
<line x1="379.91" y1="697.03" x2="379.91" y2="692.79" stroke="#666" stroke-width="0.8" />
<line x1="378.11" y1="692.79" x2="381.71" y2="692.79" stroke="#666" stroke-width="0.8" />
<line x1="378.11" y1="697.03" x2="381.71" y2="697.03" stroke="#666" stroke-width="0.8" />
<line x1="384.76" y1="694.33" x2="384.76" y2="689.70" stroke="#666" stroke-width="0.8" />
<line x1="382.96" y1="689.70" x2="386.56" y2="689.70" stroke="#666" stroke-width="0.8" />
<line x1="382.96" y1="694.33" x2="386.56" y2="694.33" stroke="#666" stroke-width="0.8" />
<line x1="389.39" y1="691.87" x2="389.39" y2="686.85" stroke="#666" stroke-width="0.8" />
<line x1="387.59" y1="686.85" x2="391.19" y2="686.85" stroke="#666" stroke-width="0.8" />
<line x1="387.59" y1="691.87" x2="391.19" y2="691.87" stroke="#666" stroke-width="0.8" />
<line x1="393.80" y1="690.13" x2="393.80" y2="684.72" stroke="#666" stroke-width="0.8" />
<line x1="392.00" y1="684.72" x2="395.60" y2="684.72" stroke="#666" stroke-width="0.8" />
<line x1="392.00" y1="690.13" x2="395.60" y2="690.13" stroke="#666" stroke-width="0.8" />
<line x1="398.03" y1="688.83" x2="398.03" y2="682.65" stroke="#666" stroke-width="0.8" />
<line x1="396.23" y1="682.65" x2="399.83" y2="682.65" stroke="#666" stroke-width="0.8" />
<line x1="396.23" y1="688.83" x2="399.83" y2="688.83" stroke="#666" stroke-width="0.8" />
<line x1="402.11" y1="688.20" x2="402.11" y2="680.86" stroke="#666" stroke-width="0.8" />
<line x1="400.31" y1="680.86" x2="403.91" y2="680.86" stroke="#666" stroke-width="0.8" />
<line x1="400.31" y1="688.20" x2="403.91" y2="688.20" stroke="#666" stroke-width="0.8" />
<line x1="406.04" y1="687.18" x2="406.04" y2="679.46" stroke="#666" stroke-width="0.8" />
<line x1="404.24" y1="679.46" x2="407.84" y2="679.46" stroke="#666" stroke-width="0.8" />
<line x1="404.24" y1="687.18" x2="407.84" y2="687.18" stroke="#666" stroke-width="0.8" />
<line x1="409.84" y1="685.69" x2="409.84" y2="677.58" stroke="#666" stroke-width="0.8" />
<line x1="408.04" y1="677.58" x2="411.64" y2="677.58" stroke="#666" stroke-width="0.8" />
<line x1="408.04" y1="685.69" x2="411.64" y2="685.69" stroke="#666" stroke-width="0.8" />
<line x1="413.53" y1="683.76" x2="413.53" y2="675.65" stroke="#666" stroke-width="0.8" />
<line x1="411.73" y1="675.65" x2="415.33" y2="675.65" stroke="#666" stroke-width="0.8" />
<line x1="411.73" y1="683.76" x2="415.33" y2="683.76" stroke="#666" stroke-width="0.8" />
<line x1="417.11" y1="682.50" x2="417.11" y2="674.00" stroke="#666" stroke-width="0.8" />
<line x1="415.31" y1="674.00" x2="418.91" y2="674.00" stroke="#666" stroke-width="0.8" />
<line x1="415.31" y1="682.50" x2="418.91" y2="682.50" stroke="#666" stroke-width="0.8" />
<line x1="420.59" y1="681.01" x2="420.59" y2="672.12" stroke="#666" stroke-width="0.8" />
<line x1="418.79" y1="672.12" x2="422.39" y2="672.12" stroke="#666" stroke-width="0.8" />
<line x1="418.79" y1="681.01" x2="422.39" y2="681.01" stroke="#666" stroke-width="0.8" />
<line x1="423.98" y1="685.30" x2="423.98" y2="676.03" stroke="#666" stroke-width="0.8" />
<line x1="422.18" y1="676.03" x2="425.78" y2="676.03" stroke="#666" stroke-width="0.8" />
<line x1="422.18" y1="685.30" x2="425.78" y2="685.30" stroke="#666" stroke-width="0.8" />
<line x1="427.28" y1="686.56" x2="427.28" y2="671.88" stroke="#666" stroke-width="0.8" />
<line x1="425.48" y1="671.88" x2="429.08" y2="671.88" stroke="#666" stroke-width="0.8" />
<line x1="425.48" y1="686.56" x2="429.08" y2="686.56" stroke="#666" stroke-width="0.8" />
<line x1="430.51" y1="685.06" x2="430.51" y2="670.00" stroke="#666" stroke-width="0.8" />
<line x1="428.71" y1="670.00" x2="432.31" y2="670.00" stroke="#666" stroke-width="0.8" />
<line x1="428.71" y1="685.06" x2="432.31" y2="685.06" stroke="#666" stroke-width="0.8" />
<line x1="433.67" y1="680.67" x2="433.67" y2="665.22" stroke="#666" stroke-width="0.8" />
<line x1="431.87" y1="665.22" x2="435.47" y2="665.22" stroke="#666" stroke-width="0.8" />
<line x1="431.87" y1="680.67" x2="435.47" y2="680.67" stroke="#666" stroke-width="0.8" />
<line x1="436.75" y1="692.88" x2="436.75" y2="676.66" stroke="#666" stroke-width="0.8" />
<line x1="434.95" y1="676.66" x2="438.55" y2="676.66" stroke="#666" stroke-width="0.8" />
<line x1="434.95" y1="692.88" x2="438.55" y2="692.88" stroke="#666" stroke-width="0.8" />
<line x1="439.78" y1="695.68" x2="439.78" y2="678.69" stroke="#666" stroke-width="0.8" />
<line x1="437.98" y1="678.69" x2="441.58" y2="678.69" stroke="#666" stroke-width="0.8" />
<line x1="437.98" y1="695.68" x2="441.58" y2="695.68" stroke="#666" stroke-width="0.8" />
<line x1="442.74" y1="694.62" x2="442.74" y2="676.85" stroke="#666" stroke-width="0.8" />
<line x1="440.94" y1="676.85" x2="444.54" y2="676.85" stroke="#666" stroke-width="0.8" />
<line x1="440.94" y1="694.62" x2="444.54" y2="694.62" stroke="#666" stroke-width="0.8" />
<line x1="445.65" y1="695.15" x2="445.65" y2="675.84" stroke="#666" stroke-width="0.8" />
<line x1="443.85" y1="675.84" x2="447.45" y2="675.84" stroke="#666" stroke-width="0.8" />
<line x1="443.85" y1="695.15" x2="447.45" y2="695.15" stroke="#666" stroke-width="0.8" />
<polyline points="289.10,741.50 320.04,726.05 332.44,715.19 341.95,706.74 349.97,697.57 357.04,690.56 363.43,685.98 369.30,681.39 374.77,677.29 379.91,673.91 384.76,671.01 389.39,668.60 393.80,668.11 398.03,667.15 402.11,661.84 406.04,661.11 409.84,660.39 413.53,659.42 417.11,658.70 420.59,657.98 423.98,655.80 427.28,650.25 430.51,649.77 433.67,649.77 436.75,642.53 439.78,642.53 442.74,634.32 445.65,626.11" fill="none" stroke="#111" stroke-width="1.0" stroke-linejoin="round" />
<polyline points="289.10,741.50 320.04,727.02 332.44,718.33 341.95,710.84 349.97,704.32 357.04,699.25 363.43,694.67 369.30,689.36 374.77,684.29 379.91,682.60 384.76,680.18 389.39,677.29 393.80,674.87 398.03,671.01 402.11,668.11 406.04,667.15 409.84,666.67 413.53,665.70 417.11,664.73 420.59,666.18 423.98,665.70 427.28,665.22 430.51,665.22 433.67,664.73 436.75,664.01 439.78,663.29 442.74,662.80 445.65,662.08" fill="none" stroke="#111" stroke-width="1.0" stroke-linejoin="round" />
<polyline points="289.10,741.50 320.04,727.02 332.44,718.57 341.95,712.29 349.97,706.74 357.04,701.43 363.43,697.57 369.30,695.15 374.77,692.98 379.91,690.56 384.76,688.87 389.39,687.67 393.80,687.43 398.03,687.18 402.11,686.94 406.04,686.22 409.84,685.50 413.53,684.77 417.11,682.60 420.59,682.12 423.98,681.63 427.28,679.94 430.51,675.12 433.67,671.25 436.75,672.70 439.78,676.32 442.74,677.53 445.65,683.81" fill="none" stroke="#111" stroke-width="1.0" stroke-linejoin="round" />
<polyline points="289.10,741.50 320.04,727.98 332.44,720.50 341.95,714.46 349.97,709.39 357.04,705.29 363.43,701.43 369.30,699.01 374.77,697.08 379.91,694.91 384.76,692.01 389.39,689.36 393.80,687.43 398.03,685.74 402.11,684.53 406.04,683.32 409.84,681.63 413.53,679.70 417.11,678.25 420.59,676.56 423.98,680.67 427.28,679.22 430.51,677.53 433.67,672.94 436.75,684.77 439.78,687.18 442.74,685.74 445.65,685.50" fill="none" stroke="#111" stroke-width="1.0" stroke-linejoin="round" />
<polygon points="286.50,739.42 291.70,739.42 289.10,743.84" fill="#111" stroke="#111" stroke-width="0.8"/>
<polygon points="317.44,723.97 322.64,723.97 320.04,728.39" fill="#111" stroke="#111" stroke-width="0.8"/>
<polygon points="329.84,713.11 335.04,713.11 332.44,717.53" fill="#111" stroke="#111" stroke-width="0.8"/>
<polygon points="339.35,704.66 344.55,704.66 341.95,709.08" fill="#111" stroke="#111" stroke-width="0.8"/>
<polygon points="347.37,695.49 352.57,695.49 349.97,699.91" fill="#111" stroke="#111" stroke-width="0.8"/>
<polygon points="354.44,688.48 359.64,688.48 357.04,692.90" fill="#111" stroke="#111" stroke-width="0.8"/>
<polygon points="360.83,683.90 366.03,683.90 363.43,688.32" fill="#111" stroke="#111" stroke-width="0.8"/>
<polygon points="366.70,679.31 371.90,679.31 369.30,683.73" fill="#111" stroke="#111" stroke-width="0.8"/>
<polygon points="372.17,675.21 377.37,675.21 374.77,679.63" fill="#111" stroke="#111" stroke-width="0.8"/>
<polygon points="377.31,671.83 382.51,671.83 379.91,676.25" fill="#111" stroke="#111" stroke-width="0.8"/>
<polygon points="382.16,668.93 387.36,668.93 384.76,673.35" fill="#111" stroke="#111" stroke-width="0.8"/>
<polygon points="386.79,666.52 391.99,666.52 389.39,670.94" fill="#111" stroke="#111" stroke-width="0.8"/>
<polygon points="391.20,666.03 396.40,666.03 393.80,670.45" fill="#111" stroke="#111" stroke-width="0.8"/>
<polygon points="395.43,665.07 400.63,665.07 398.03,669.49" fill="#111" stroke="#111" stroke-width="0.8"/>
<polygon points="399.51,659.76 404.71,659.76 402.11,664.18" fill="#111" stroke="#111" stroke-width="0.8"/>
<polygon points="403.44,659.03 408.64,659.03 406.04,663.45" fill="#111" stroke="#111" stroke-width="0.8"/>
<polygon points="407.24,658.31 412.44,658.31 409.84,662.73" fill="#111" stroke="#111" stroke-width="0.8"/>
<polygon points="410.93,657.34 416.13,657.34 413.53,661.76" fill="#111" stroke="#111" stroke-width="0.8"/>
<polygon points="414.51,656.62 419.71,656.62 417.11,661.04" fill="#111" stroke="#111" stroke-width="0.8"/>
<polygon points="417.99,655.90 423.19,655.90 420.59,660.32" fill="#111" stroke="#111" stroke-width="0.8"/>
<polygon points="421.38,653.72 426.58,653.72 423.98,658.14" fill="#111" stroke="#111" stroke-width="0.8"/>
<polygon points="424.68,648.17 429.88,648.17 427.28,652.59" fill="#111" stroke="#111" stroke-width="0.8"/>
<polygon points="427.91,647.69 433.11,647.69 430.51,652.11" fill="#111" stroke="#111" stroke-width="0.8"/>
<polygon points="431.07,647.69 436.27,647.69 433.67,652.11" fill="#111" stroke="#111" stroke-width="0.8"/>
<polygon points="434.15,640.45 439.35,640.45 436.75,644.87" fill="#111" stroke="#111" stroke-width="0.8"/>
<polygon points="437.18,640.45 442.38,640.45 439.78,644.87" fill="#111" stroke="#111" stroke-width="0.8"/>
<polygon points="440.14,632.24 445.34,632.24 442.74,636.66" fill="#111" stroke="#111" stroke-width="0.8"/>
<polygon points="443.05,624.03 448.25,624.03 445.65,628.45" fill="#111" stroke="#111" stroke-width="0.8"/>
<polygon points="286.50,739.42 291.70,739.42 289.10,743.84" fill="#fff" stroke="#111" stroke-width="0.8"/>
<polygon points="317.44,724.94 322.64,724.94 320.04,729.36" fill="#fff" stroke="#111" stroke-width="0.8"/>
<polygon points="329.84,716.25 335.04,716.25 332.44,720.67" fill="#fff" stroke="#111" stroke-width="0.8"/>
<polygon points="339.35,708.76 344.55,708.76 341.95,713.18" fill="#fff" stroke="#111" stroke-width="0.8"/>
<polygon points="347.37,702.24 352.57,702.24 349.97,706.66" fill="#fff" stroke="#111" stroke-width="0.8"/>
<polygon points="354.44,697.17 359.64,697.17 357.04,701.60" fill="#fff" stroke="#111" stroke-width="0.8"/>
<polygon points="360.83,692.59 366.03,692.59 363.43,697.01" fill="#fff" stroke="#111" stroke-width="0.8"/>
<polygon points="366.70,687.28 371.90,687.28 369.30,691.70" fill="#fff" stroke="#111" stroke-width="0.8"/>
<polygon points="372.17,682.21 377.37,682.21 374.77,686.63" fill="#fff" stroke="#111" stroke-width="0.8"/>
<polygon points="377.31,680.52 382.51,680.52 379.91,684.94" fill="#fff" stroke="#111" stroke-width="0.8"/>
<polygon points="382.16,678.10 387.36,678.10 384.76,682.52" fill="#fff" stroke="#111" stroke-width="0.8"/>
<polygon points="386.79,675.21 391.99,675.21 389.39,679.63" fill="#fff" stroke="#111" stroke-width="0.8"/>
<polygon points="391.20,672.79 396.40,672.79 393.80,677.21" fill="#fff" stroke="#111" stroke-width="0.8"/>
<polygon points="395.43,668.93 400.63,668.93 398.03,673.35" fill="#fff" stroke="#111" stroke-width="0.8"/>
<polygon points="399.51,666.03 404.71,666.03 402.11,670.45" fill="#fff" stroke="#111" stroke-width="0.8"/>
<polygon points="403.44,665.07 408.64,665.07 406.04,669.49" fill="#fff" stroke="#111" stroke-width="0.8"/>
<polygon points="407.24,664.59 412.44,664.59 409.84,669.01" fill="#fff" stroke="#111" stroke-width="0.8"/>
<polygon points="410.93,663.62 416.13,663.62 413.53,668.04" fill="#fff" stroke="#111" stroke-width="0.8"/>
<polygon points="414.51,662.65 419.71,662.65 417.11,667.07" fill="#fff" stroke="#111" stroke-width="0.8"/>
<polygon points="417.99,664.10 423.19,664.10 420.59,668.52" fill="#fff" stroke="#111" stroke-width="0.8"/>
<polygon points="421.38,663.62 426.58,663.62 423.98,668.04" fill="#fff" stroke="#111" stroke-width="0.8"/>
<polygon points="424.68,663.14 429.88,663.14 427.28,667.56" fill="#fff" stroke="#111" stroke-width="0.8"/>
<polygon points="427.91,663.14 433.11,663.14 430.51,667.56" fill="#fff" stroke="#111" stroke-width="0.8"/>
<polygon points="431.07,662.65 436.27,662.65 433.67,667.07" fill="#fff" stroke="#111" stroke-width="0.8"/>
<polygon points="434.15,661.93 439.35,661.93 436.75,666.35" fill="#fff" stroke="#111" stroke-width="0.8"/>
<polygon points="437.18,661.21 442.38,661.21 439.78,665.63" fill="#fff" stroke="#111" stroke-width="0.8"/>
<polygon points="440.14,660.72 445.34,660.72 442.74,665.14" fill="#fff" stroke="#111" stroke-width="0.8"/>
<polygon points="443.05,660.00 448.25,660.00 445.65,664.42" fill="#fff" stroke="#111" stroke-width="0.8"/>
<circle cx="289.10" cy="741.50" r="2.5" fill="#111"/>
<circle cx="320.04" cy="727.02" r="2.5" fill="#111"/>
<circle cx="332.44" cy="718.57" r="2.5" fill="#111"/>
<circle cx="341.95" cy="712.29" r="2.5" fill="#111"/>
<circle cx="349.97" cy="706.74" r="2.5" fill="#111"/>
<circle cx="357.04" cy="701.43" r="2.5" fill="#111"/>
<circle cx="363.43" cy="697.57" r="2.5" fill="#111"/>
<circle cx="369.30" cy="695.15" r="2.5" fill="#111"/>
<circle cx="374.77" cy="692.98" r="2.5" fill="#111"/>
<circle cx="379.91" cy="690.56" r="2.5" fill="#111"/>
<circle cx="384.76" cy="688.87" r="2.5" fill="#111"/>
<circle cx="389.39" cy="687.67" r="2.5" fill="#111"/>
<circle cx="393.80" cy="687.43" r="2.5" fill="#111"/>
<circle cx="398.03" cy="687.18" r="2.5" fill="#111"/>
<circle cx="402.11" cy="686.94" r="2.5" fill="#111"/>
<circle cx="406.04" cy="686.22" r="2.5" fill="#111"/>
<circle cx="409.84" cy="685.50" r="2.5" fill="#111"/>
<circle cx="413.53" cy="684.77" r="2.5" fill="#111"/>
<circle cx="417.11" cy="682.60" r="2.5" fill="#111"/>
<circle cx="420.59" cy="682.12" r="2.5" fill="#111"/>
<circle cx="423.98" cy="681.63" r="2.5" fill="#111"/>
<circle cx="427.28" cy="679.94" r="2.5" fill="#111"/>
<circle cx="430.51" cy="675.12" r="2.5" fill="#111"/>
<circle cx="433.67" cy="671.25" r="2.5" fill="#111"/>
<circle cx="436.75" cy="672.70" r="2.5" fill="#111"/>
<circle cx="439.78" cy="676.32" r="2.5" fill="#111"/>
<circle cx="442.74" cy="677.53" r="2.5" fill="#111"/>
<circle cx="445.65" cy="683.81" r="2.5" fill="#111"/>
<circle cx="289.10" cy="741.50" r="2.5" fill="#fff" stroke="#111" stroke-width="0.9"/>
<circle cx="320.04" cy="727.98" r="2.5" fill="#fff" stroke="#111" stroke-width="0.9"/>
<circle cx="332.44" cy="720.50" r="2.5" fill="#fff" stroke="#111" stroke-width="0.9"/>
<circle cx="341.95" cy="714.46" r="2.5" fill="#fff" stroke="#111" stroke-width="0.9"/>
<circle cx="349.97" cy="709.39" r="2.5" fill="#fff" stroke="#111" stroke-width="0.9"/>
<circle cx="357.04" cy="705.29" r="2.5" fill="#fff" stroke="#111" stroke-width="0.9"/>
<circle cx="363.43" cy="701.43" r="2.5" fill="#fff" stroke="#111" stroke-width="0.9"/>
<circle cx="369.30" cy="699.01" r="2.5" fill="#fff" stroke="#111" stroke-width="0.9"/>
<circle cx="374.77" cy="697.08" r="2.5" fill="#fff" stroke="#111" stroke-width="0.9"/>
<circle cx="379.91" cy="694.91" r="2.5" fill="#fff" stroke="#111" stroke-width="0.9"/>
<circle cx="384.76" cy="692.01" r="2.5" fill="#fff" stroke="#111" stroke-width="0.9"/>
<circle cx="389.39" cy="689.36" r="2.5" fill="#fff" stroke="#111" stroke-width="0.9"/>
<circle cx="393.80" cy="687.43" r="2.5" fill="#fff" stroke="#111" stroke-width="0.9"/>
<circle cx="398.03" cy="685.74" r="2.5" fill="#fff" stroke="#111" stroke-width="0.9"/>
<circle cx="402.11" cy="684.53" r="2.5" fill="#fff" stroke="#111" stroke-width="0.9"/>
<circle cx="406.04" cy="683.32" r="2.5" fill="#fff" stroke="#111" stroke-width="0.9"/>
<circle cx="409.84" cy="681.63" r="2.5" fill="#fff" stroke="#111" stroke-width="0.9"/>
<circle cx="413.53" cy="679.70" r="2.5" fill="#fff" stroke="#111" stroke-width="0.9"/>
<circle cx="417.11" cy="678.25" r="2.5" fill="#fff" stroke="#111" stroke-width="0.9"/>
<circle cx="420.59" cy="676.56" r="2.5" fill="#fff" stroke="#111" stroke-width="0.9"/>
<circle cx="423.98" cy="680.67" r="2.5" fill="#fff" stroke="#111" stroke-width="0.9"/>
<circle cx="427.28" cy="679.22" r="2.5" fill="#fff" stroke="#111" stroke-width="0.9"/>
<circle cx="430.51" cy="677.53" r="2.5" fill="#fff" stroke="#111" stroke-width="0.9"/>
<circle cx="433.67" cy="672.94" r="2.5" fill="#fff" stroke="#111" stroke-width="0.9"/>
<circle cx="436.75" cy="684.77" r="2.5" fill="#fff" stroke="#111" stroke-width="0.9"/>
<circle cx="439.78" cy="687.18" r="2.5" fill="#fff" stroke="#111" stroke-width="0.9"/>
<circle cx="442.74" cy="685.74" r="2.5" fill="#fff" stroke="#111" stroke-width="0.9"/>
<circle cx="445.65" cy="685.50" r="2.5" fill="#fff" stroke="#111" stroke-width="0.9"/>
<polygon points="285.7,741.5 289.2,738 292.7,741.5 289.2,745" fill="#fff" stroke="#111" stroke-width="0.9"/>
<polygon points="318.60,605.12 323.80,605.12 321.20,609.54" fill="#111" stroke="#111" stroke-width="0.8"/>
<polygon points="318.80,615.88 323.60,615.88 321.20,619.96" fill="#fff" stroke="#111" stroke-width="0.8"/>
<circle cx="321.2" cy="628" r="2.4" fill="#111"/>
<circle cx="321.2" cy="638.6" r="2.3" fill="#fff" stroke="#111" stroke-width="0.8"/>
<text transform="translate(329.00 610.90)" font-size="10.8" text-anchor="start" font-weight="normal" fill="#111" textLength="55.8" lengthAdjust="spacingAndGlyphs" >WT (control)</text>
<text transform="translate(329.00 621.30)" font-size="10.8" text-anchor="start" font-weight="normal" fill="#111" textLength="53.2" lengthAdjust="spacingAndGlyphs" >WT (M17/4)</text>
<text transform="translate(329.00 631.90)" font-size="10.8" text-anchor="start" font-weight="normal" fill="#111" textLength="49.4" lengthAdjust="spacingAndGlyphs" >KI (control)</text>
<text transform="translate(329.00 643.20)" font-size="10.8" text-anchor="start" font-weight="normal" fill="#111" textLength="47" lengthAdjust="spacingAndGlyphs" >KI (M17/4)</text>
</svg></body></html>
